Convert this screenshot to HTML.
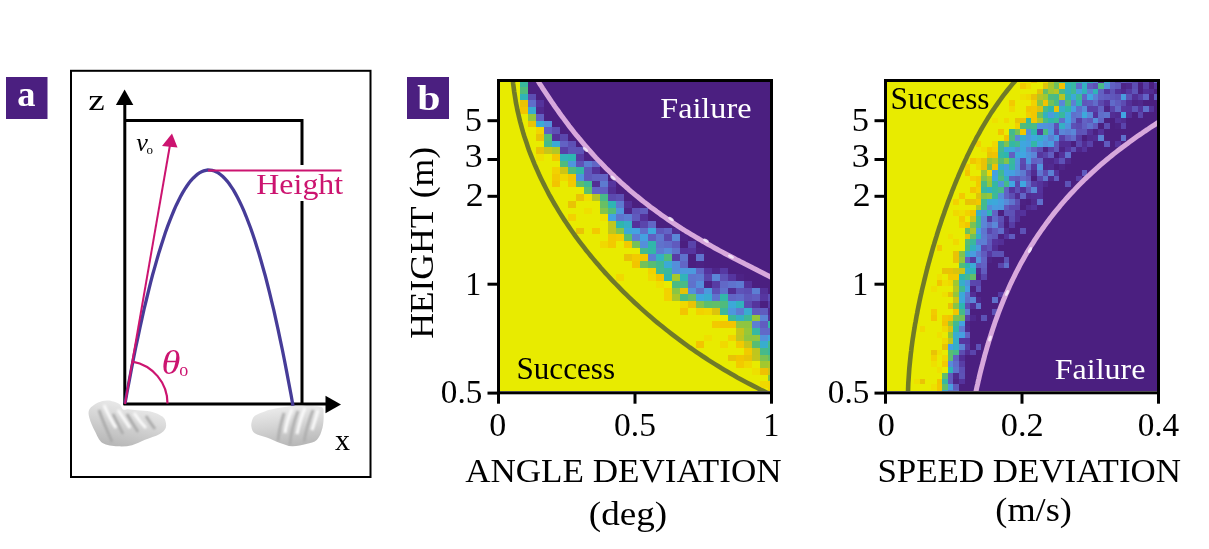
<!DOCTYPE html>
<html><head><meta charset="utf-8"><style>
html,body{margin:0;padding:0;background:#fff;}
svg{display:block;font-family:'Liberation Serif','DejaVu Serif',serif;}
</style></head><body>
<svg width="1209" height="549" viewBox="0 0 1209 549">
<rect x="6" y="77" width="41.5" height="42" fill="#4b1f80"/>
<text x="17.21" y="105.95" font-size="35.4" fill="#fff" textLength="18.22" lengthAdjust="spacingAndGlyphs" font-weight="bold">a</text>
<rect x="71" y="70.8" width="299.5" height="406.2" fill="none" stroke="#000" stroke-width="2"/>
<path d="M125,120.5 H302 V165 M302,201 V404" fill="none" stroke="#000" stroke-width="3"/>
<path d="M124.8,405 V103" stroke="#000" stroke-width="3"/>
<path d="M124.6,89.5 L133.3,105 L115.9,105 Z" fill="#000"/>
<path d="M123.5,404 H327" stroke="#000" stroke-width="3.2"/>
<path d="M341,404.5 L325.5,395.8 L325.5,413.2 Z" fill="#000"/>
<defs>
<filter id="bl" x="-20%" y="-20%" width="140%" height="140%"><feGaussianBlur stdDeviation="1.1"/></filter>
<filter id="bl2" x="-20%" y="-20%" width="140%" height="140%"><feGaussianBlur stdDeviation="0.45"/></filter>
<linearGradient id="hg1" x1="0.7" y1="0" x2="0.3" y2="1"><stop offset="0" stop-color="#f0f0f0"/><stop offset="0.5" stop-color="#d4d4d4"/><stop offset="1" stop-color="#b6b6b6"/></linearGradient>
<linearGradient id="hg2" x1="0.3" y1="0" x2="0.5" y2="1"><stop offset="0" stop-color="#eeeeee"/><stop offset="0.5" stop-color="#d4d4d4"/><stop offset="1" stop-color="#b8b8b8"/></linearGradient>
<clipPath id="lhc"><path d="M89.4,409.2 C90.9,406.6 95.2,404.1 98.1,402.6 C101.0,401.2 104.2,400.7 106.8,400.5 C109.3,400.3 111.2,400.9 113.4,401.6 C115.6,402.3 118.4,403.2 120.0,404.5 C121.6,405.8 121.5,408.7 123.0,409.5 C124.5,410.3 126.3,409.1 128.7,409.2 C131.1,409.3 133.8,409.9 137.4,410.3 C141.0,410.7 146.8,410.7 150.5,411.4 C154.2,412.1 156.9,413.4 159.3,414.7 C161.7,416.0 163.6,416.8 164.7,419.0 C165.8,421.2 166.7,425.2 165.8,427.8 C164.9,430.4 162.8,432.3 159.3,434.3 C155.8,436.3 149.6,438.0 145.0,439.8 C140.4,441.6 136.5,444.1 132.0,445.2 C127.5,446.3 122.7,446.7 117.8,446.3 C112.9,445.9 106.3,445.6 102.5,443.0 C98.7,440.4 97.0,435.2 94.8,431.0 C92.6,426.8 90.3,421.6 89.4,418.0 C88.5,414.4 88.0,411.8 89.4,409.2 Z"/></clipPath>
<clipPath id="rhc"><path d="M251.6,422.3 C252.1,420.3 252.6,417.6 254.8,415.8 C257.0,414.0 260.9,412.7 264.7,411.4 C268.5,410.1 273.2,409.0 277.8,408.1 C282.4,407.2 287.3,406.3 292.0,405.9 C296.7,405.5 301.3,405.7 306.2,405.9 C311.1,406.1 318.6,405.7 321.5,407.0 C324.4,408.3 323.4,410.1 323.6,413.6 C323.8,417.1 323.6,423.4 322.5,427.8 C321.4,432.2 319.7,437.1 317.0,439.8 C314.3,442.5 310.4,443.0 306.2,444.1 C302.0,445.2 296.4,446.5 292.0,446.3 C287.6,446.1 284.2,444.4 280.0,443.0 C275.8,441.6 271.0,439.2 266.8,437.6 C262.6,436.0 257.3,434.8 254.8,433.2 C252.3,431.6 252.1,429.6 251.6,427.8 C251.1,426.0 251.1,424.3 251.6,422.3 Z"/></clipPath>
</defs>
<g>
<path d="M89.4,409.2 C90.9,406.6 95.2,404.1 98.1,402.6 C101.0,401.2 104.2,400.7 106.8,400.5 C109.3,400.3 111.2,400.9 113.4,401.6 C115.6,402.3 118.4,403.2 120.0,404.5 C121.6,405.8 121.5,408.7 123.0,409.5 C124.5,410.3 126.3,409.1 128.7,409.2 C131.1,409.3 133.8,409.9 137.4,410.3 C141.0,410.7 146.8,410.7 150.5,411.4 C154.2,412.1 156.9,413.4 159.3,414.7 C161.7,416.0 163.6,416.8 164.7,419.0 C165.8,421.2 166.7,425.2 165.8,427.8 C164.9,430.4 162.8,432.3 159.3,434.3 C155.8,436.3 149.6,438.0 145.0,439.8 C140.4,441.6 136.5,444.1 132.0,445.2 C127.5,446.3 122.7,446.7 117.8,446.3 C112.9,445.9 106.3,445.6 102.5,443.0 C98.7,440.4 97.0,435.2 94.8,431.0 C92.6,426.8 90.3,421.6 89.4,418.0 C88.5,414.4 88.0,411.8 89.4,409.2 Z" fill="url(#hg1)" filter="url(#bl2)"/>
<g clip-path="url(#lhc)">
<path d="M99,410 C103,422 108,432 112,442 M113,414 C117,422 120,428 123,434 M127,414 C131,421 135,427 138,432 M146,416 C149,421 152,425 155,429" stroke="#a9a9a9" stroke-width="2.6" fill="none" filter="url(#bl)"/>
<path d="M104,405 C108,414 112,422 116,428 M118,410 C122,416 126,422 130,428 M134,413 C138,419 142,424 146,428" stroke="#fbfbfb" stroke-width="3" fill="none" filter="url(#bl)"/>
</g></g>
<g>
<path d="M251.6,422.3 C252.1,420.3 252.6,417.6 254.8,415.8 C257.0,414.0 260.9,412.7 264.7,411.4 C268.5,410.1 273.2,409.0 277.8,408.1 C282.4,407.2 287.3,406.3 292.0,405.9 C296.7,405.5 301.3,405.7 306.2,405.9 C311.1,406.1 318.6,405.7 321.5,407.0 C324.4,408.3 323.4,410.1 323.6,413.6 C323.8,417.1 323.6,423.4 322.5,427.8 C321.4,432.2 319.7,437.1 317.0,439.8 C314.3,442.5 310.4,443.0 306.2,444.1 C302.0,445.2 296.4,446.5 292.0,446.3 C287.6,446.1 284.2,444.4 280.0,443.0 C275.8,441.6 271.0,439.2 266.8,437.6 C262.6,436.0 257.3,434.8 254.8,433.2 C252.3,431.6 252.1,429.6 251.6,427.8 C251.1,426.0 251.1,424.3 251.6,422.3 Z" fill="url(#hg2)" filter="url(#bl2)"/>
<g clip-path="url(#rhc)">
<path d="M284,413 C281,422 279,430 278,441 M298,411 C294,421 291,431 290,445 M313,410 C309,420 306,430 304,442" stroke="#adadad" stroke-width="2.6" fill="none" filter="url(#bl)"/>
<path d="M292,409 C288,418 286,425 285,433 M305,408 C301,417 299,425 297,434 M318,410 C316,418 314,424 312,430" stroke="#fbfbfb" stroke-width="3" fill="none" filter="url(#bl)"/>
</g></g>
<path d="M125.0,403.5 L127.1,391.8 L129.3,380.4 L131.4,369.3 L133.5,358.5 L135.6,348.0 L137.8,337.8 L139.9,327.9 L142.0,318.3 L144.1,309.0 L146.3,300.0 L148.4,291.3 L150.5,282.9 L152.6,274.8 L154.8,267.1 L156.9,259.6 L159.0,252.4 L161.2,245.5 L163.3,238.9 L165.4,232.6 L167.5,226.6 L169.7,220.9 L171.8,215.6 L173.9,210.5 L176.0,205.7 L178.2,201.2 L180.3,197.0 L182.4,193.1 L184.5,189.6 L186.7,186.3 L188.8,183.3 L190.9,180.6 L193.1,178.2 L195.2,176.2 L197.3,174.4 L199.4,172.9 L201.6,171.7 L203.7,170.9 L205.8,170.3 L207.9,170.0 L210.1,170.1 L212.2,170.4 L214.3,171.0 L216.4,171.9 L218.6,173.2 L220.7,174.7 L222.8,176.5 L224.9,178.7 L227.1,181.1 L229.2,183.8 L231.3,186.9 L233.5,190.2 L235.6,193.9 L237.7,197.8 L239.8,202.0 L242.0,206.6 L244.1,211.4 L246.2,216.5 L248.3,222.0 L250.5,227.7 L252.6,233.8 L254.7,240.1 L256.8,246.8 L259.0,253.7 L261.1,261.0 L263.2,268.5 L265.4,276.3 L267.5,284.5 L269.6,292.9 L271.7,301.7 L273.9,310.7 L276.0,320.1 L278.1,329.7 L280.2,339.7 L282.4,350.0 L284.5,360.5 L286.6,371.4 L288.7,382.5 L290.9,394.0 L293.0,405.7" fill="none" stroke="#463c98" stroke-width="3.3"/>
<path d="M125,404 L170.5,142" stroke="#cc1470" stroke-width="2" fill="none"/>
<path d="M172,133.5 L177.5,147.5 L162,146 Z" fill="#cc1470"/>
<path d="M132.4,361.6 A42.5,42.5 0 0 1 167.5,403.5" fill="none" stroke="#cc1470" stroke-width="2.2"/>
<path d="M208,170.5 H341.5" stroke="#cc1470" stroke-width="2"/>
<text x="256.34" y="193.90" font-size="30" fill="#cc1470" textLength="86.81" lengthAdjust="spacingAndGlyphs" >Height</text>
<text x="88.19" y="109.70" font-size="30.2" fill="#000" textLength="16.47" lengthAdjust="spacingAndGlyphs" >z</text>
<text x="136.28" y="150.75" font-size="25" fill="#000" textLength="11.63" lengthAdjust="spacingAndGlyphs" font-style="italic">v</text>
<text x="146.5" y="154.2" font-size="13">o</text>
<text x="161.47" y="374.47" font-size="32.8" fill="#cc1470" textLength="18.95" lengthAdjust="spacingAndGlyphs" font-style="italic">θ</text>
<text x="179.2" y="375.5" font-size="18" fill="#cc1470">o</text>
<text x="335.00" y="450.40" font-size="28.5" fill="#000" textLength="15.00" lengthAdjust="spacingAndGlyphs" >x</text>
<rect x="407" y="77" width="42" height="42" fill="#4b1f80"/>
<text x="417.18" y="110.34" font-size="35.6" fill="#fff" textLength="23.23" lengthAdjust="spacingAndGlyphs" font-weight="bold">b</text>
<clipPath id="c1"><rect x="500" y="82" width="270" height="309"/></clipPath>
<g clip-path="url(#c1)"><rect x="500" y="82" width="270" height="309" fill="#e8eb00"/>
<g shape-rendering="crispEdges"><rect x="520" y="80" width="8" height="7" fill="#39b89d"/>
<rect x="528" y="80" width="256" height="7" fill="#4b1f80"/>
<rect x="520" y="87" width="8" height="7" fill="#4fbc7c"/>
<rect x="528" y="87" width="256" height="7" fill="#4b1f80"/>
<rect x="520" y="94" width="8" height="6" fill="#30b3b8"/>
<rect x="528" y="94" width="8" height="6" fill="#5c4db3"/>
<rect x="536" y="94" width="248" height="6" fill="#4b1f80"/>
<rect x="520" y="100" width="8" height="7" fill="#e9c305"/>
<rect x="528" y="100" width="8" height="7" fill="#5f6eca"/>
<rect x="536" y="100" width="8" height="7" fill="#54339c"/>
<rect x="544" y="100" width="240" height="7" fill="#4b1f80"/>
<rect x="520" y="107" width="8" height="7" fill="#f2c500"/>
<rect x="528" y="107" width="8" height="7" fill="#39accf"/>
<rect x="536" y="107" width="8" height="7" fill="#50298e"/>
<rect x="544" y="107" width="240" height="7" fill="#4b1f80"/>
<rect x="528" y="114" width="8" height="7" fill="#92c63d"/>
<rect x="536" y="114" width="8" height="7" fill="#615fc1"/>
<rect x="544" y="114" width="240" height="7" fill="#4b1f80"/>
<rect x="528" y="121" width="8" height="6" fill="#e9c305"/>
<rect x="536" y="121" width="8" height="6" fill="#3babd4"/>
<rect x="544" y="121" width="8" height="6" fill="#5390db"/>
<rect x="552" y="121" width="232" height="6" fill="#4b1f80"/>
<rect x="536" y="127" width="8" height="7" fill="#f1d500"/>
<rect x="544" y="127" width="8" height="7" fill="#615fc2"/>
<rect x="552" y="127" width="8" height="7" fill="#5d4fb4"/>
<rect x="560" y="127" width="224" height="7" fill="#4b1f80"/>
<rect x="536" y="134" width="8" height="7" fill="#e9c305"/>
<rect x="544" y="134" width="8" height="7" fill="#52bc78"/>
<rect x="552" y="134" width="8" height="7" fill="#54319a"/>
<rect x="560" y="134" width="8" height="7" fill="#5a47ad"/>
<rect x="568" y="134" width="216" height="7" fill="#4b1f80"/>
<rect x="544" y="141" width="8" height="6" fill="#45ba8c"/>
<rect x="552" y="141" width="8" height="6" fill="#3baad5"/>
<rect x="560" y="141" width="8" height="6" fill="#6262c4"/>
<rect x="568" y="141" width="8" height="6" fill="#5d50b5"/>
<rect x="576" y="141" width="208" height="6" fill="#4b1f80"/>
<rect x="536" y="147" width="8" height="7" fill="#e9c305"/>
<rect x="544" y="147" width="8" height="7" fill="#c8c519"/>
<rect x="552" y="147" width="8" height="7" fill="#b0c727"/>
<rect x="560" y="147" width="8" height="7" fill="#5840a8"/>
<rect x="568" y="147" width="8" height="7" fill="#5e54b8"/>
<rect x="576" y="147" width="8" height="7" fill="#5e52b7"/>
<rect x="584" y="147" width="200" height="7" fill="#4b1f80"/>
<rect x="536" y="154" width="8" height="7" fill="#eee000"/>
<rect x="552" y="154" width="8" height="7" fill="#f2c900"/>
<rect x="560" y="154" width="8" height="7" fill="#31b3ba"/>
<rect x="568" y="154" width="8" height="7" fill="#2eb6b1"/>
<rect x="576" y="154" width="8" height="7" fill="#573aa3"/>
<rect x="584" y="154" width="8" height="7" fill="#4d2285"/>
<rect x="592" y="154" width="192" height="7" fill="#4b1f80"/>
<rect x="560" y="161" width="8" height="6" fill="#4ebb7e"/>
<rect x="568" y="161" width="8" height="6" fill="#4e96dd"/>
<rect x="576" y="161" width="8" height="6" fill="#5e52b7"/>
<rect x="584" y="161" width="8" height="6" fill="#5c7cd2"/>
<rect x="592" y="161" width="8" height="6" fill="#6165c5"/>
<rect x="600" y="161" width="184" height="6" fill="#4b1f80"/>
<rect x="552" y="167" width="8" height="7" fill="#f2d200"/>
<rect x="560" y="167" width="8" height="7" fill="#cec515"/>
<rect x="568" y="167" width="8" height="7" fill="#50bc7b"/>
<rect x="576" y="167" width="8" height="7" fill="#33b7a6"/>
<rect x="584" y="167" width="8" height="7" fill="#5f58bb"/>
<rect x="592" y="167" width="8" height="7" fill="#54339c"/>
<rect x="600" y="167" width="184" height="7" fill="#4b1f80"/>
<rect x="552" y="174" width="8" height="7" fill="#f2ca00"/>
<rect x="560" y="174" width="8" height="7" fill="#f0d900"/>
<rect x="568" y="174" width="8" height="7" fill="#f2c700"/>
<rect x="576" y="174" width="8" height="7" fill="#4e95dc"/>
<rect x="584" y="174" width="8" height="7" fill="#5f58bc"/>
<rect x="592" y="174" width="8" height="7" fill="#6160c2"/>
<rect x="600" y="174" width="8" height="7" fill="#6263c4"/>
<rect x="608" y="174" width="176" height="7" fill="#4b1f80"/>
<rect x="552" y="181" width="8" height="6" fill="#f2c500"/>
<rect x="568" y="181" width="8" height="6" fill="#f2ca00"/>
<rect x="576" y="181" width="8" height="6" fill="#5bbd6f"/>
<rect x="584" y="181" width="8" height="6" fill="#3fb995"/>
<rect x="592" y="181" width="8" height="6" fill="#522e95"/>
<rect x="600" y="181" width="8" height="6" fill="#5d7ad0"/>
<rect x="608" y="181" width="8" height="6" fill="#55359f"/>
<rect x="616" y="181" width="168" height="6" fill="#4b1f80"/>
<rect x="584" y="187" width="8" height="7" fill="#5dbe6e"/>
<rect x="592" y="187" width="8" height="7" fill="#6264c5"/>
<rect x="600" y="187" width="8" height="7" fill="#615ec1"/>
<rect x="608" y="187" width="8" height="7" fill="#522e95"/>
<rect x="616" y="187" width="168" height="7" fill="#4b1f80"/>
<rect x="576" y="194" width="8" height="7" fill="#e9c305"/>
<rect x="584" y="194" width="8" height="7" fill="#eee000"/>
<rect x="592" y="194" width="8" height="7" fill="#b5c624"/>
<rect x="600" y="194" width="8" height="7" fill="#48ba87"/>
<rect x="608" y="194" width="8" height="7" fill="#5b49af"/>
<rect x="616" y="194" width="8" height="7" fill="#5d50b5"/>
<rect x="624" y="194" width="160" height="7" fill="#4b1f80"/>
<rect x="568" y="201" width="8" height="7" fill="#e9c305"/>
<rect x="600" y="201" width="8" height="7" fill="#68bf64"/>
<rect x="608" y="201" width="8" height="7" fill="#2eb5b4"/>
<rect x="616" y="201" width="8" height="7" fill="#5d79d0"/>
<rect x="624" y="201" width="8" height="7" fill="#532f97"/>
<rect x="632" y="201" width="152" height="7" fill="#4b1f80"/>
<rect x="584" y="208" width="8" height="6" fill="#eee000"/>
<rect x="600" y="208" width="8" height="6" fill="#83c44b"/>
<rect x="608" y="208" width="8" height="6" fill="#52bc78"/>
<rect x="616" y="208" width="8" height="6" fill="#4f95dc"/>
<rect x="624" y="208" width="8" height="6" fill="#4e2589"/>
<rect x="632" y="208" width="8" height="6" fill="#5e52b7"/>
<rect x="640" y="208" width="8" height="6" fill="#605bbe"/>
<rect x="648" y="208" width="136" height="6" fill="#4b1f80"/>
<rect x="568" y="214" width="8" height="7" fill="#f2d200"/>
<rect x="600" y="214" width="8" height="7" fill="#eee000"/>
<rect x="608" y="214" width="8" height="7" fill="#43a2e1"/>
<rect x="616" y="214" width="8" height="7" fill="#5e75ce"/>
<rect x="624" y="214" width="8" height="7" fill="#5c7ed3"/>
<rect x="632" y="214" width="8" height="7" fill="#605abd"/>
<rect x="640" y="214" width="8" height="7" fill="#54319a"/>
<rect x="648" y="214" width="136" height="7" fill="#4b1f80"/>
<rect x="608" y="221" width="8" height="7" fill="#c1c61d"/>
<rect x="616" y="221" width="8" height="7" fill="#2fb6ad"/>
<rect x="624" y="221" width="8" height="7" fill="#35afc6"/>
<rect x="632" y="221" width="8" height="7" fill="#54329c"/>
<rect x="640" y="221" width="8" height="7" fill="#5a45ac"/>
<rect x="648" y="221" width="8" height="7" fill="#6166c6"/>
<rect x="656" y="221" width="128" height="7" fill="#4b1f80"/>
<rect x="576" y="228" width="8" height="6" fill="#e9c305"/>
<rect x="592" y="228" width="8" height="6" fill="#f2ca00"/>
<rect x="608" y="228" width="8" height="6" fill="#bfc61e"/>
<rect x="616" y="228" width="8" height="6" fill="#84c44a"/>
<rect x="624" y="228" width="8" height="6" fill="#3ca9d8"/>
<rect x="632" y="228" width="8" height="6" fill="#44a2e1"/>
<rect x="640" y="228" width="8" height="6" fill="#5f70cb"/>
<rect x="648" y="228" width="8" height="6" fill="#3ea8dc"/>
<rect x="656" y="228" width="8" height="6" fill="#5f58bc"/>
<rect x="664" y="228" width="8" height="6" fill="#6263c5"/>
<rect x="672" y="228" width="8" height="6" fill="#512d93"/>
<rect x="680" y="228" width="104" height="6" fill="#4b1f80"/>
<rect x="608" y="234" width="8" height="7" fill="#f2ca00"/>
<rect x="616" y="234" width="8" height="7" fill="#f2ce00"/>
<rect x="624" y="234" width="8" height="7" fill="#59bd71"/>
<rect x="632" y="234" width="8" height="7" fill="#5c7ed3"/>
<rect x="640" y="234" width="8" height="7" fill="#44a1e0"/>
<rect x="648" y="234" width="8" height="7" fill="#615ec1"/>
<rect x="656" y="234" width="8" height="7" fill="#5e77cf"/>
<rect x="664" y="234" width="8" height="7" fill="#5b48af"/>
<rect x="672" y="234" width="8" height="7" fill="#5a86d7"/>
<rect x="680" y="234" width="8" height="7" fill="#4d2386"/>
<rect x="688" y="234" width="96" height="7" fill="#4b1f80"/>
<rect x="600" y="241" width="8" height="7" fill="#f0d900"/>
<rect x="608" y="241" width="8" height="7" fill="#f2ca00"/>
<rect x="624" y="241" width="8" height="7" fill="#f2ca00"/>
<rect x="632" y="241" width="8" height="7" fill="#74c158"/>
<rect x="640" y="241" width="8" height="7" fill="#548fda"/>
<rect x="648" y="241" width="8" height="7" fill="#30b6ab"/>
<rect x="656" y="241" width="8" height="7" fill="#5f72cc"/>
<rect x="664" y="241" width="8" height="7" fill="#606bc9"/>
<rect x="672" y="241" width="8" height="7" fill="#605abe"/>
<rect x="680" y="241" width="8" height="7" fill="#4b1f80"/>
<rect x="688" y="241" width="8" height="7" fill="#5943ab"/>
<rect x="696" y="241" width="88" height="7" fill="#4b1f80"/>
<rect x="640" y="248" width="8" height="6" fill="#44ba8c"/>
<rect x="648" y="248" width="8" height="6" fill="#33b7a6"/>
<rect x="656" y="248" width="8" height="6" fill="#5d7bd1"/>
<rect x="664" y="248" width="8" height="6" fill="#568cd9"/>
<rect x="672" y="248" width="8" height="6" fill="#5f72cc"/>
<rect x="680" y="248" width="8" height="6" fill="#55349e"/>
<rect x="688" y="248" width="8" height="6" fill="#5636a0"/>
<rect x="696" y="248" width="8" height="6" fill="#4d2385"/>
<rect x="704" y="248" width="80" height="6" fill="#4b1f80"/>
<rect x="624" y="254" width="8" height="7" fill="#e9c305"/>
<rect x="632" y="254" width="8" height="7" fill="#f2ca00"/>
<rect x="640" y="254" width="8" height="7" fill="#f2c600"/>
<rect x="648" y="254" width="8" height="7" fill="#5c7fd3"/>
<rect x="656" y="254" width="8" height="7" fill="#34b0c3"/>
<rect x="664" y="254" width="8" height="7" fill="#50bc7b"/>
<rect x="672" y="254" width="8" height="7" fill="#573ca4"/>
<rect x="680" y="254" width="8" height="7" fill="#5f72cd"/>
<rect x="688" y="254" width="8" height="7" fill="#4b1f80"/>
<rect x="696" y="254" width="8" height="7" fill="#5f73cd"/>
<rect x="704" y="254" width="80" height="7" fill="#4b1f80"/>
<rect x="632" y="261" width="8" height="7" fill="#f2c500"/>
<rect x="640" y="261" width="8" height="7" fill="#74c159"/>
<rect x="648" y="261" width="8" height="7" fill="#57bd74"/>
<rect x="656" y="261" width="8" height="7" fill="#42b990"/>
<rect x="664" y="261" width="8" height="7" fill="#3baad5"/>
<rect x="672" y="261" width="8" height="7" fill="#548fda"/>
<rect x="680" y="261" width="8" height="7" fill="#6166c6"/>
<rect x="688" y="261" width="8" height="7" fill="#4b1f80"/>
<rect x="696" y="261" width="8" height="7" fill="#4c2284"/>
<rect x="704" y="261" width="80" height="7" fill="#4b1f80"/>
<rect x="648" y="268" width="8" height="6" fill="#f2d300"/>
<rect x="656" y="268" width="8" height="6" fill="#43ba8f"/>
<rect x="664" y="268" width="8" height="6" fill="#39b89e"/>
<rect x="672" y="268" width="8" height="6" fill="#558eda"/>
<rect x="680" y="268" width="16" height="6" fill="#4c99de"/>
<rect x="696" y="268" width="8" height="6" fill="#6165c5"/>
<rect x="704" y="268" width="8" height="6" fill="#55349e"/>
<rect x="712" y="268" width="8" height="6" fill="#4e268a"/>
<rect x="720" y="268" width="8" height="6" fill="#5638a2"/>
<rect x="728" y="268" width="56" height="6" fill="#4b1f80"/>
<rect x="616" y="274" width="8" height="7" fill="#f0d900"/>
<rect x="648" y="274" width="8" height="7" fill="#f0d900"/>
<rect x="656" y="274" width="8" height="7" fill="#f2c400"/>
<rect x="664" y="274" width="8" height="7" fill="#30b6ac"/>
<rect x="672" y="274" width="8" height="7" fill="#a5c82d"/>
<rect x="680" y="274" width="8" height="7" fill="#31b3b9"/>
<rect x="688" y="274" width="8" height="7" fill="#5e75ce"/>
<rect x="696" y="274" width="8" height="7" fill="#5d79d0"/>
<rect x="704" y="274" width="8" height="7" fill="#5944ab"/>
<rect x="712" y="274" width="8" height="7" fill="#5b85d7"/>
<rect x="720" y="274" width="8" height="7" fill="#5d51b6"/>
<rect x="728" y="274" width="8" height="7" fill="#55359f"/>
<rect x="736" y="274" width="8" height="7" fill="#4d2386"/>
<rect x="744" y="274" width="40" height="7" fill="#4b1f80"/>
<rect x="656" y="281" width="8" height="7" fill="#eee000"/>
<rect x="672" y="281" width="8" height="7" fill="#4abb84"/>
<rect x="680" y="281" width="8" height="7" fill="#49bb86"/>
<rect x="688" y="281" width="8" height="7" fill="#5f72cc"/>
<rect x="696" y="281" width="8" height="7" fill="#548fda"/>
<rect x="704" y="281" width="8" height="7" fill="#4d2487"/>
<rect x="712" y="281" width="8" height="7" fill="#573ca4"/>
<rect x="720" y="281" width="8" height="7" fill="#6168c7"/>
<rect x="728" y="281" width="8" height="7" fill="#5f72cd"/>
<rect x="736" y="281" width="8" height="7" fill="#5d7ad1"/>
<rect x="744" y="281" width="8" height="7" fill="#54319a"/>
<rect x="752" y="281" width="32" height="7" fill="#4b1f80"/>
<rect x="664" y="288" width="8" height="6" fill="#f2d200"/>
<rect x="672" y="288" width="8" height="6" fill="#8ac545"/>
<rect x="680" y="288" width="8" height="6" fill="#e3c309"/>
<rect x="688" y="288" width="8" height="6" fill="#5390db"/>
<rect x="696" y="288" width="8" height="6" fill="#606dca"/>
<rect x="704" y="288" width="8" height="6" fill="#4b99de"/>
<rect x="712" y="288" width="8" height="6" fill="#5d52b7"/>
<rect x="720" y="288" width="8" height="6" fill="#5f71cc"/>
<rect x="728" y="288" width="8" height="6" fill="#522e95"/>
<rect x="736" y="288" width="8" height="6" fill="#5e53b8"/>
<rect x="744" y="288" width="8" height="6" fill="#5c4eb4"/>
<rect x="752" y="288" width="8" height="6" fill="#5c7ed3"/>
<rect x="760" y="288" width="8" height="6" fill="#533098"/>
<rect x="768" y="288" width="16" height="6" fill="#4b1f80"/>
<rect x="664" y="294" width="8" height="7" fill="#f2d200"/>
<rect x="672" y="294" width="8" height="7" fill="#aac72a"/>
<rect x="680" y="294" width="8" height="7" fill="#4abb84"/>
<rect x="688" y="294" width="8" height="7" fill="#68bf64"/>
<rect x="696" y="294" width="8" height="7" fill="#3ea7de"/>
<rect x="704" y="294" width="8" height="7" fill="#39acd0"/>
<rect x="712" y="294" width="8" height="7" fill="#5e73cd"/>
<rect x="720" y="294" width="8" height="7" fill="#32b7a9"/>
<rect x="728" y="294" width="8" height="7" fill="#6165c5"/>
<rect x="736" y="294" width="8" height="7" fill="#606bc9"/>
<rect x="744" y="294" width="8" height="7" fill="#5f57bb"/>
<rect x="752" y="294" width="8" height="7" fill="#615dc0"/>
<rect x="760" y="294" width="8" height="7" fill="#5636a0"/>
<rect x="768" y="294" width="8" height="7" fill="#5c4eb4"/>
<rect x="776" y="294" width="8" height="7" fill="#54329a"/>
<rect x="680" y="301" width="8" height="7" fill="#f0d900"/>
<rect x="688" y="301" width="8" height="7" fill="#eac305"/>
<rect x="696" y="301" width="8" height="7" fill="#80c34e"/>
<rect x="704" y="301" width="8" height="7" fill="#5cbe6e"/>
<rect x="712" y="301" width="8" height="7" fill="#62be69"/>
<rect x="720" y="301" width="8" height="7" fill="#4fbb7d"/>
<rect x="728" y="301" width="8" height="7" fill="#3ca9d8"/>
<rect x="736" y="301" width="8" height="7" fill="#32b2be"/>
<rect x="744" y="301" width="8" height="7" fill="#5b4bb1"/>
<rect x="752" y="301" width="8" height="7" fill="#55349d"/>
<rect x="760" y="301" width="8" height="7" fill="#4b1f81"/>
<rect x="768" y="301" width="8" height="7" fill="#5639a2"/>
<rect x="776" y="301" width="8" height="7" fill="#4b1f80"/>
<rect x="680" y="308" width="8" height="7" fill="#f2c500"/>
<rect x="696" y="308" width="8" height="7" fill="#f2d200"/>
<rect x="704" y="308" width="8" height="7" fill="#f0d800"/>
<rect x="712" y="308" width="8" height="7" fill="#dcc40d"/>
<rect x="720" y="308" width="8" height="7" fill="#3bb89b"/>
<rect x="728" y="308" width="8" height="7" fill="#4d97dd"/>
<rect x="736" y="308" width="8" height="7" fill="#5d7cd2"/>
<rect x="744" y="308" width="8" height="7" fill="#39accf"/>
<rect x="752" y="308" width="8" height="7" fill="#605bbe"/>
<rect x="760" y="308" width="8" height="7" fill="#605bbf"/>
<rect x="768" y="308" width="8" height="7" fill="#512b91"/>
<rect x="776" y="308" width="8" height="7" fill="#50298e"/>
<rect x="728" y="315" width="8" height="6" fill="#3cb89a"/>
<rect x="736" y="315" width="8" height="6" fill="#34b0c3"/>
<rect x="744" y="315" width="8" height="6" fill="#3fb995"/>
<rect x="752" y="315" width="8" height="6" fill="#94c63b"/>
<rect x="760" y="315" width="8" height="6" fill="#5b84d6"/>
<rect x="768" y="315" width="8" height="6" fill="#54339c"/>
<rect x="776" y="315" width="8" height="6" fill="#4b1f80"/>
<rect x="712" y="321" width="8" height="7" fill="#f2ca00"/>
<rect x="720" y="321" width="16" height="7" fill="#f2c500"/>
<rect x="736" y="321" width="8" height="7" fill="#8fc540"/>
<rect x="744" y="321" width="8" height="7" fill="#8dc541"/>
<rect x="752" y="321" width="8" height="7" fill="#5c7fd3"/>
<rect x="760" y="321" width="8" height="7" fill="#615dc0"/>
<rect x="768" y="321" width="8" height="7" fill="#33b7a6"/>
<rect x="776" y="321" width="8" height="7" fill="#5a86d7"/>
<rect x="736" y="328" width="8" height="7" fill="#c7c519"/>
<rect x="744" y="328" width="8" height="7" fill="#97c739"/>
<rect x="752" y="328" width="8" height="7" fill="#37b8a2"/>
<rect x="760" y="328" width="8" height="7" fill="#6169c8"/>
<rect x="768" y="328" width="8" height="7" fill="#606ac8"/>
<rect x="776" y="328" width="8" height="7" fill="#6261c3"/>
<rect x="704" y="335" width="8" height="6" fill="#eee000"/>
<rect x="728" y="335" width="8" height="6" fill="#f2d200"/>
<rect x="736" y="335" width="8" height="6" fill="#bfc61e"/>
<rect x="744" y="335" width="8" height="6" fill="#8fc540"/>
<rect x="752" y="335" width="8" height="6" fill="#90c63f"/>
<rect x="760" y="335" width="8" height="6" fill="#5292db"/>
<rect x="768" y="335" width="8" height="6" fill="#3da8da"/>
<rect x="776" y="335" width="8" height="6" fill="#30b4b8"/>
<rect x="696" y="341" width="8" height="7" fill="#f2c500"/>
<rect x="720" y="341" width="8" height="7" fill="#f0d900"/>
<rect x="736" y="341" width="8" height="7" fill="#f2ca00"/>
<rect x="744" y="341" width="8" height="7" fill="#c5c51a"/>
<rect x="752" y="341" width="8" height="7" fill="#59bd72"/>
<rect x="760" y="341" width="8" height="7" fill="#38adce"/>
<rect x="768" y="341" width="8" height="7" fill="#46ba8b"/>
<rect x="776" y="341" width="8" height="7" fill="#3baad5"/>
<rect x="744" y="348" width="8" height="7" fill="#f2ca00"/>
<rect x="752" y="348" width="8" height="7" fill="#bfc61e"/>
<rect x="760" y="348" width="8" height="7" fill="#46ba8a"/>
<rect x="768" y="348" width="8" height="7" fill="#3bb89a"/>
<rect x="776" y="348" width="8" height="7" fill="#31b2bc"/>
<rect x="728" y="355" width="8" height="6" fill="#e9c305"/>
<rect x="736" y="355" width="8" height="6" fill="#f2c500"/>
<rect x="744" y="355" width="8" height="6" fill="#e9c305"/>
<rect x="752" y="355" width="8" height="6" fill="#c2c61c"/>
<rect x="760" y="355" width="8" height="6" fill="#7bc252"/>
<rect x="768" y="355" width="8" height="6" fill="#62bf69"/>
<rect x="776" y="355" width="8" height="6" fill="#4ebb7f"/>
<rect x="736" y="361" width="8" height="7" fill="#f2ca00"/>
<rect x="744" y="361" width="8" height="7" fill="#f0d900"/>
<rect x="760" y="361" width="8" height="7" fill="#a2c82f"/>
<rect x="768" y="361" width="8" height="7" fill="#acc729"/>
<rect x="776" y="361" width="8" height="7" fill="#48ba88"/>
<rect x="752" y="368" width="8" height="7" fill="#eee000"/>
<rect x="760" y="368" width="8" height="7" fill="#efc202"/>
<rect x="768" y="368" width="8" height="7" fill="#cdc516"/>
<rect x="776" y="368" width="8" height="7" fill="#33b1bf"/>
<rect x="768" y="375" width="8" height="6" fill="#85c449"/>
<rect x="776" y="375" width="8" height="6" fill="#69c063"/>
<rect x="760" y="381" width="8" height="7" fill="#f0d900"/>
<rect x="768" y="381" width="8" height="7" fill="#f1d500"/>
<rect x="776" y="381" width="8" height="7" fill="#67bf64"/>
<rect x="768" y="388" width="8" height="7" fill="#f2d200"/>
<rect x="776" y="388" width="8" height="7" fill="#b8c622"/>
<rect x="776" y="395" width="8" height="7" fill="#b8c622"/></g>
<path d="M511.8,68.4 L512.1,72.4 L512.4,76.3 L512.8,80.1 L513.2,84.0 L513.7,87.8 L514.2,91.6 L514.8,95.4 L515.4,99.2 L516.0,103.0 L516.8,106.7 L517.5,110.4 L518.4,114.2 L519.2,117.8 L520.1,121.5 L521.1,125.2 L522.1,128.8 L523.1,132.4 L524.2,136.0 L525.4,139.6 L526.6,143.1 L527.8,146.7 L529.0,150.2 L530.3,153.7 L531.7,157.2 L533.1,160.6 L534.5,164.1 L536.0,167.5 L537.5,170.9 L539.0,174.3 L540.6,177.7 L542.2,181.0 L543.9,184.4 L545.6,187.7 L547.3,191.0 L549.0,194.3 L550.8,197.5 L552.7,200.8 L554.5,204.0 L556.4,207.2 L558.3,210.4 L560.3,213.6 L562.3,216.7 L564.3,219.9 L566.4,223.0 L568.5,226.1 L570.6,229.2 L572.7,232.2 L574.9,235.3 L577.1,238.3 L579.3,241.3 L581.6,244.3 L583.8,247.2 L586.1,250.2 L588.5,253.1 L590.8,256.0 L593.2,258.9 L595.6,261.8 L598.1,264.6 L600.5,267.5 L603.0,270.3 L605.5,273.1 L608.0,275.8 L610.6,278.6 L613.2,281.3 L615.8,284.0 L618.4,286.7 L621.0,289.4 L623.7,292.1 L626.4,294.7 L629.1,297.3 L631.8,299.9 L634.5,302.5 L637.3,305.0 L640.1,307.6 L642.9,310.1 L645.7,312.6 L648.5,315.1 L651.4,317.5 L654.2,319.9 L657.1,322.4 L660.0,324.7 L662.9,327.1 L665.9,329.5 L668.8,331.8 L671.8,334.1 L674.8,336.4 L677.8,338.6 L680.8,340.9 L683.8,343.1 L686.9,345.3 L689.9,347.5 L693.0,349.6 L696.1,351.8 L699.2,353.9 L702.3,356.0 L705.4,358.0 L708.5,360.1 L711.7,362.1 L714.9,364.1 L718.0,366.0 L721.2,368.0 L724.4,369.9 L727.6,371.8 L730.9,373.7 L734.1,375.5 L737.3,377.4 L740.6,379.2 L743.9,381.0 L747.1,382.7 L750.4,384.4 L753.7,386.1 L757.0,387.8 L760.3,389.5 L763.7,391.1 L767.0,392.7 L770.4,394.3 L773.7,395.8 L777.1,397.4 L780.5,398.9" fill="none" stroke="#707a28" stroke-width="4.6"/>
<path d="M534.1,74.7 L535.5,77.0 L536.9,79.2 L538.4,81.5 L539.8,83.8 L541.3,86.0 L542.7,88.3 L544.2,90.6 L545.7,92.8 L547.2,95.1 L548.7,97.4 L550.2,99.6 L551.7,101.9 L553.3,104.1 L554.8,106.4 L556.4,108.6 L558.0,110.8 L559.5,113.0 L561.1,115.2 L562.8,117.4 L564.4,119.6 L566.0,121.8 L567.7,124.0 L569.3,126.2 L571.0,128.4 L572.7,130.5 L574.4,132.7 L576.1,134.8 L577.9,136.9 L579.6,139.0 L581.4,141.1 L583.1,143.2 L584.9,145.3 L586.7,147.4 L588.5,149.5 L590.3,151.5 L592.1,153.5 L594.0,155.6 L595.8,157.6 L597.7,159.6 L599.6,161.6 L601.5,163.5 L603.4,165.5 L605.3,167.5 L607.2,169.4 L609.2,171.3 L611.1,173.2 L613.1,175.1 L615.0,177.0 L617.0,178.9 L619.0,180.7 L621.0,182.6 L623.1,184.4 L625.1,186.2 L627.2,188.0 L629.2,189.8 L631.3,191.6 L633.4,193.3 L635.5,195.1 L637.6,196.8 L639.7,198.5 L641.8,200.2 L643.9,201.9 L646.1,203.6 L648.3,205.2 L650.4,206.9 L652.6,208.5 L654.8,210.1 L657.0,211.8 L659.2,213.3 L661.4,214.9 L663.7,216.5 L665.9,218.0 L668.1,219.6 L670.4,221.1 L672.7,222.6 L674.9,224.1 L677.2,225.6 L679.5,227.1 L681.8,228.6 L684.1,230.0 L686.4,231.5 L688.8,232.9 L691.1,234.3 L693.4,235.7 L695.8,237.1 L698.1,238.5 L700.5,239.9 L702.8,241.3 L705.2,242.6 L707.6,244.0 L710.0,245.3 L712.4,246.6 L714.7,248.0 L717.1,249.3 L719.5,250.6 L722.0,251.9 L724.4,253.2 L726.8,254.5 L729.2,255.7 L731.6,257.0 L734.0,258.3 L736.5,259.6 L738.9,260.8 L741.3,262.1 L743.8,263.3 L746.2,264.6 L748.6,265.8 L751.1,267.0 L753.5,268.3 L756.0,269.5 L758.4,270.8 L760.8,272.0 L763.3,273.2 L765.7,274.5 L768.2,275.7 L770.6,276.9 L773.0,278.2 L775.5,279.4 L777.9,280.7" fill="none" stroke="#d8a8dc" stroke-width="5"/>
<ellipse cx="585.5" cy="149.5" rx="3.2" ry="1.5" transform="rotate(45 585.5 149.5)" fill="#f8eefa" opacity="0.85"/>
<ellipse cx="613" cy="178" rx="3.2" ry="1.5" transform="rotate(40 613 178)" fill="#f8eefa" opacity="0.85"/>
<ellipse cx="671" cy="219" rx="3.2" ry="1.5" transform="rotate(32 671 219)" fill="#f8eefa" opacity="0.85"/>
<ellipse cx="706" cy="240.6" rx="3.2" ry="1.5" transform="rotate(30 706 240.6)" fill="#f8eefa" opacity="0.85"/>
<ellipse cx="731" cy="256.6" rx="3.2" ry="1.5" transform="rotate(28 731 256.6)" fill="#f8eefa" opacity="0.85"/>
</g>
<rect x="498.5" y="80.5" width="273" height="312.3" fill="none" stroke="#000" stroke-width="3"/>
<path d="M487.5,120.7 H499" stroke="#000" stroke-width="3"/>
<path d="M487.5,159.5 H499" stroke="#000" stroke-width="3"/>
<path d="M487.5,196.3 H499" stroke="#000" stroke-width="3"/>
<path d="M487.5,284.2 H499" stroke="#000" stroke-width="3"/>
<path d="M487.5,393.1 H499" stroke="#000" stroke-width="3"/>
<path d="M498.5,392 V403.7" stroke="#000" stroke-width="3"/>
<path d="M635,392 V403.7" stroke="#000" stroke-width="3"/>
<path d="M771.5,392 V403.7" stroke="#000" stroke-width="3"/>
<text x="464.73" y="130.96" font-size="34" fill="#000" textLength="17.25" lengthAdjust="spacingAndGlyphs" >5</text>
<text x="464.81" y="166.86" font-size="34" fill="#000" textLength="17.93" lengthAdjust="spacingAndGlyphs" >3</text>
<text x="465.77" y="205.60" font-size="34" fill="#000" textLength="17.88" lengthAdjust="spacingAndGlyphs" >2</text>
<text x="465.32" y="295.00" font-size="34" fill="#000" textLength="16.00" lengthAdjust="spacingAndGlyphs" >1</text>
<text x="440.87" y="402.62" font-size="34" fill="#000" textLength="41.45" lengthAdjust="spacingAndGlyphs" >0.5</text>
<text x="489.34" y="435.82" font-size="34" fill="#000" textLength="17.02" lengthAdjust="spacingAndGlyphs" >0</text>
<text x="614.06" y="435.92" font-size="34" fill="#000" textLength="41.88" lengthAdjust="spacingAndGlyphs" >0.5</text>
<text x="763.29" y="436.30" font-size="34" fill="#000" textLength="16.14" lengthAdjust="spacingAndGlyphs" >1</text>
<text x="465.15" y="482.22" font-size="34" fill="#000" textLength="316.46" lengthAdjust="spacingAndGlyphs" >ANGLE DEVIATION</text>
<text x="588.81" y="524.56" font-size="34" fill="#000" textLength="78.37" lengthAdjust="spacingAndGlyphs" >(deg)</text>
<text x="660.23" y="117.90" font-size="30" fill="#fff" textLength="91.22" lengthAdjust="spacingAndGlyphs" >Failure</text>
<text x="516.52" y="378.59" font-size="30.5" fill="#000" textLength="98.50" lengthAdjust="spacingAndGlyphs" >Success</text>
<clipPath id="c2"><rect x="887" y="82" width="270" height="309"/></clipPath>
<g clip-path="url(#c2)"><rect x="887" y="82" width="270" height="309" fill="#e8eb00"/>
<g shape-rendering="crispEdges"><rect x="1031" y="77" width="6" height="6" fill="#e9c305"/>
<rect x="1043" y="77" width="5" height="6" fill="#eee000"/>
<rect x="1048" y="77" width="6" height="6" fill="#b9c621"/>
<rect x="1054" y="77" width="5" height="6" fill="#76c257"/>
<rect x="1059" y="77" width="6" height="6" fill="#46ba8a"/>
<rect x="1065" y="77" width="6" height="6" fill="#3eb996"/>
<rect x="1071" y="77" width="5" height="6" fill="#3ab89d"/>
<rect x="1076" y="77" width="6" height="6" fill="#31b7a9"/>
<rect x="1082" y="77" width="5" height="6" fill="#45a0e0"/>
<rect x="1087" y="77" width="6" height="6" fill="#2db6b1"/>
<rect x="1093" y="77" width="5" height="6" fill="#548fda"/>
<rect x="1098" y="77" width="6" height="6" fill="#4f278b"/>
<rect x="1104" y="77" width="6" height="6" fill="#36aec8"/>
<rect x="1110" y="77" width="5" height="6" fill="#6263c4"/>
<rect x="1115" y="77" width="6" height="6" fill="#5b48af"/>
<rect x="1121" y="77" width="5" height="6" fill="#615fc1"/>
<rect x="1126" y="77" width="6" height="6" fill="#5f56ba"/>
<rect x="1132" y="77" width="6" height="6" fill="#5b4ab0"/>
<rect x="1138" y="77" width="5" height="6" fill="#512c92"/>
<rect x="1143" y="77" width="6" height="6" fill="#5a44ab"/>
<rect x="1149" y="77" width="5" height="6" fill="#4b1f80"/>
<rect x="1154" y="77" width="6" height="6" fill="#6167c7"/>
<rect x="1160" y="77" width="5" height="6" fill="#4b1f80"/>
<rect x="1020" y="83" width="6" height="6" fill="#f2ca00"/>
<rect x="1026" y="83" width="5" height="6" fill="#f0d900"/>
<rect x="1043" y="83" width="5" height="6" fill="#dfc30b"/>
<rect x="1048" y="83" width="6" height="6" fill="#a8c72b"/>
<rect x="1054" y="83" width="5" height="6" fill="#6cc060"/>
<rect x="1059" y="83" width="6" height="6" fill="#f2c200"/>
<rect x="1065" y="83" width="6" height="6" fill="#31b3b9"/>
<rect x="1071" y="83" width="5" height="6" fill="#37b8a1"/>
<rect x="1076" y="83" width="6" height="6" fill="#606cc9"/>
<rect x="1082" y="83" width="5" height="6" fill="#33b1bf"/>
<rect x="1087" y="83" width="6" height="6" fill="#605cbf"/>
<rect x="1093" y="83" width="5" height="6" fill="#5d51b6"/>
<rect x="1098" y="83" width="6" height="6" fill="#48ba88"/>
<rect x="1104" y="83" width="6" height="6" fill="#5291db"/>
<rect x="1110" y="83" width="5" height="6" fill="#6160c3"/>
<rect x="1115" y="83" width="6" height="6" fill="#5f59bd"/>
<rect x="1121" y="83" width="5" height="6" fill="#4e2588"/>
<rect x="1126" y="83" width="6" height="6" fill="#50298f"/>
<rect x="1132" y="83" width="6" height="6" fill="#5c4eb4"/>
<rect x="1138" y="83" width="5" height="6" fill="#4b1f80"/>
<rect x="1143" y="83" width="6" height="6" fill="#583ea6"/>
<rect x="1149" y="83" width="5" height="6" fill="#4b1f80"/>
<rect x="1154" y="83" width="6" height="6" fill="#533199"/>
<rect x="1160" y="83" width="5" height="6" fill="#4b1f80"/>
<rect x="1037" y="89" width="6" height="5" fill="#e3c309"/>
<rect x="1043" y="89" width="5" height="5" fill="#63bf69"/>
<rect x="1048" y="89" width="6" height="5" fill="#a1c830"/>
<rect x="1054" y="89" width="5" height="5" fill="#b6c623"/>
<rect x="1059" y="89" width="6" height="5" fill="#45ba8b"/>
<rect x="1065" y="89" width="6" height="5" fill="#32b2be"/>
<rect x="1071" y="89" width="5" height="5" fill="#40b993"/>
<rect x="1076" y="89" width="6" height="5" fill="#45a1e0"/>
<rect x="1082" y="89" width="5" height="5" fill="#31b3ba"/>
<rect x="1087" y="89" width="6" height="5" fill="#5c80d4"/>
<rect x="1093" y="89" width="5" height="5" fill="#30b4b8"/>
<rect x="1098" y="89" width="6" height="5" fill="#6160c2"/>
<rect x="1104" y="89" width="6" height="5" fill="#55369f"/>
<rect x="1110" y="89" width="5" height="5" fill="#5e53b7"/>
<rect x="1115" y="89" width="6" height="5" fill="#54339c"/>
<rect x="1121" y="89" width="5" height="5" fill="#502a90"/>
<rect x="1126" y="89" width="6" height="5" fill="#5639a2"/>
<rect x="1132" y="89" width="6" height="5" fill="#5e54b8"/>
<rect x="1138" y="89" width="5" height="5" fill="#4b1f80"/>
<rect x="1143" y="89" width="6" height="5" fill="#533098"/>
<rect x="1149" y="89" width="5" height="5" fill="#512b92"/>
<rect x="1154" y="89" width="11" height="5" fill="#4b1f80"/>
<rect x="1020" y="94" width="6" height="6" fill="#eee000"/>
<rect x="1026" y="94" width="5" height="6" fill="#f0d900"/>
<rect x="1031" y="94" width="6" height="6" fill="#e9c305"/>
<rect x="1037" y="94" width="6" height="6" fill="#b6c623"/>
<rect x="1043" y="94" width="5" height="6" fill="#9ec832"/>
<rect x="1048" y="94" width="6" height="6" fill="#4ebb7f"/>
<rect x="1054" y="94" width="5" height="6" fill="#47ba89"/>
<rect x="1059" y="94" width="6" height="6" fill="#b5c624"/>
<rect x="1065" y="94" width="6" height="6" fill="#33b7a6"/>
<rect x="1071" y="94" width="5" height="6" fill="#3ca9d8"/>
<rect x="1076" y="94" width="6" height="6" fill="#3eb997"/>
<rect x="1082" y="94" width="5" height="6" fill="#6166c6"/>
<rect x="1087" y="94" width="6" height="6" fill="#3fa7de"/>
<rect x="1093" y="94" width="5" height="6" fill="#5b81d4"/>
<rect x="1098" y="94" width="6" height="6" fill="#6261c3"/>
<rect x="1104" y="94" width="6" height="6" fill="#605bbf"/>
<rect x="1110" y="94" width="5" height="6" fill="#5f57bb"/>
<rect x="1115" y="94" width="6" height="6" fill="#5d51b6"/>
<rect x="1121" y="94" width="5" height="6" fill="#499bde"/>
<rect x="1126" y="94" width="6" height="6" fill="#5d51b6"/>
<rect x="1132" y="94" width="6" height="6" fill="#532f97"/>
<rect x="1138" y="94" width="5" height="6" fill="#5840a8"/>
<rect x="1143" y="94" width="6" height="6" fill="#6263c5"/>
<rect x="1149" y="94" width="5" height="6" fill="#4b1f80"/>
<rect x="1154" y="94" width="6" height="6" fill="#605bbf"/>
<rect x="1160" y="94" width="5" height="6" fill="#573ba3"/>
<rect x="1009" y="100" width="6" height="6" fill="#f2ca00"/>
<rect x="1031" y="100" width="6" height="6" fill="#f2d200"/>
<rect x="1037" y="100" width="6" height="6" fill="#89c545"/>
<rect x="1043" y="100" width="5" height="6" fill="#f2c300"/>
<rect x="1048" y="100" width="6" height="6" fill="#72c15a"/>
<rect x="1054" y="100" width="5" height="6" fill="#4bbb83"/>
<rect x="1059" y="100" width="6" height="6" fill="#5a87d7"/>
<rect x="1065" y="100" width="6" height="6" fill="#52bc78"/>
<rect x="1071" y="100" width="5" height="6" fill="#5c80d4"/>
<rect x="1076" y="100" width="6" height="6" fill="#2fb4b6"/>
<rect x="1082" y="100" width="5" height="6" fill="#5f56ba"/>
<rect x="1087" y="100" width="6" height="6" fill="#605abe"/>
<rect x="1093" y="100" width="5" height="6" fill="#606dca"/>
<rect x="1098" y="100" width="6" height="6" fill="#5b48ae"/>
<rect x="1104" y="100" width="6" height="6" fill="#55349e"/>
<rect x="1110" y="100" width="5" height="6" fill="#606bc9"/>
<rect x="1115" y="100" width="6" height="6" fill="#605cbf"/>
<rect x="1121" y="100" width="5" height="6" fill="#5c4cb2"/>
<rect x="1126" y="100" width="6" height="6" fill="#533098"/>
<rect x="1132" y="100" width="6" height="6" fill="#4e2588"/>
<rect x="1138" y="100" width="5" height="6" fill="#4f288d"/>
<rect x="1143" y="100" width="22" height="6" fill="#4b1f80"/>
<rect x="1009" y="106" width="6" height="6" fill="#f0d900"/>
<rect x="1026" y="106" width="5" height="6" fill="#f2c500"/>
<rect x="1031" y="106" width="6" height="6" fill="#f2c800"/>
<rect x="1037" y="106" width="6" height="6" fill="#d8c40f"/>
<rect x="1043" y="106" width="5" height="6" fill="#4abb84"/>
<rect x="1048" y="106" width="6" height="6" fill="#2fb6ac"/>
<rect x="1054" y="106" width="5" height="6" fill="#e3c309"/>
<rect x="1059" y="106" width="6" height="6" fill="#37adcb"/>
<rect x="1065" y="106" width="6" height="6" fill="#32b7a8"/>
<rect x="1071" y="106" width="5" height="6" fill="#469fe0"/>
<rect x="1076" y="106" width="6" height="6" fill="#5f70cc"/>
<rect x="1082" y="106" width="5" height="6" fill="#578cd9"/>
<rect x="1087" y="106" width="6" height="6" fill="#5941a9"/>
<rect x="1093" y="106" width="5" height="6" fill="#5942aa"/>
<rect x="1098" y="106" width="6" height="6" fill="#6263c4"/>
<rect x="1104" y="106" width="6" height="6" fill="#4e2589"/>
<rect x="1110" y="106" width="5" height="6" fill="#5a44ac"/>
<rect x="1115" y="106" width="6" height="6" fill="#6168c7"/>
<rect x="1121" y="106" width="5" height="6" fill="#5638a1"/>
<rect x="1126" y="106" width="6" height="6" fill="#55359f"/>
<rect x="1132" y="106" width="6" height="6" fill="#5e54b9"/>
<rect x="1138" y="106" width="5" height="6" fill="#55339d"/>
<rect x="1143" y="106" width="6" height="6" fill="#5f6fcb"/>
<rect x="1149" y="106" width="5" height="6" fill="#54329c"/>
<rect x="1154" y="106" width="11" height="6" fill="#4b1f80"/>
<rect x="1026" y="112" width="5" height="6" fill="#f2cf00"/>
<rect x="1031" y="112" width="6" height="6" fill="#f2c700"/>
<rect x="1037" y="112" width="6" height="6" fill="#6dc05f"/>
<rect x="1043" y="112" width="5" height="6" fill="#32b2bc"/>
<rect x="1048" y="112" width="6" height="6" fill="#4a9bde"/>
<rect x="1054" y="112" width="5" height="6" fill="#36afc7"/>
<rect x="1059" y="112" width="6" height="6" fill="#39b89e"/>
<rect x="1065" y="112" width="6" height="6" fill="#3ea8dc"/>
<rect x="1071" y="112" width="5" height="6" fill="#5f70cc"/>
<rect x="1076" y="112" width="6" height="6" fill="#5e77cf"/>
<rect x="1082" y="112" width="5" height="6" fill="#3da9da"/>
<rect x="1087" y="112" width="6" height="6" fill="#5a87d7"/>
<rect x="1093" y="112" width="5" height="6" fill="#55339d"/>
<rect x="1098" y="112" width="6" height="6" fill="#606dca"/>
<rect x="1104" y="112" width="6" height="6" fill="#5e74ce"/>
<rect x="1110" y="112" width="5" height="6" fill="#522e95"/>
<rect x="1115" y="112" width="6" height="6" fill="#502a90"/>
<rect x="1121" y="112" width="5" height="6" fill="#41a5e2"/>
<rect x="1126" y="112" width="6" height="6" fill="#532f97"/>
<rect x="1132" y="112" width="6" height="6" fill="#4b1f80"/>
<rect x="1138" y="112" width="5" height="6" fill="#5a44ac"/>
<rect x="1143" y="112" width="22" height="6" fill="#4b1f80"/>
<rect x="992" y="118" width="6" height="5" fill="#eee000"/>
<rect x="1004" y="118" width="5" height="5" fill="#f0d900"/>
<rect x="1015" y="118" width="11" height="5" fill="#e9c305"/>
<rect x="1026" y="118" width="5" height="5" fill="#38b89f"/>
<rect x="1031" y="118" width="6" height="5" fill="#f2c600"/>
<rect x="1037" y="118" width="6" height="5" fill="#acc729"/>
<rect x="1043" y="118" width="5" height="5" fill="#49bb86"/>
<rect x="1048" y="118" width="6" height="5" fill="#2eb6ae"/>
<rect x="1054" y="118" width="5" height="5" fill="#3cb899"/>
<rect x="1059" y="118" width="6" height="5" fill="#5f70cb"/>
<rect x="1065" y="118" width="6" height="5" fill="#42a4e1"/>
<rect x="1071" y="118" width="5" height="5" fill="#5e76cf"/>
<rect x="1076" y="118" width="6" height="5" fill="#583fa7"/>
<rect x="1082" y="118" width="5" height="5" fill="#6263c4"/>
<rect x="1087" y="118" width="6" height="5" fill="#605abe"/>
<rect x="1093" y="118" width="5" height="5" fill="#548fda"/>
<rect x="1098" y="118" width="6" height="5" fill="#6165c6"/>
<rect x="1104" y="118" width="11" height="5" fill="#4b1f80"/>
<rect x="1115" y="118" width="6" height="5" fill="#54329b"/>
<rect x="1121" y="118" width="5" height="5" fill="#512d93"/>
<rect x="1126" y="118" width="39" height="5" fill="#4b1f80"/>
<rect x="1015" y="123" width="5" height="6" fill="#f2d200"/>
<rect x="1020" y="123" width="6" height="6" fill="#51bc7a"/>
<rect x="1026" y="123" width="5" height="6" fill="#44ba8e"/>
<rect x="1031" y="123" width="6" height="6" fill="#49bb86"/>
<rect x="1037" y="123" width="6" height="6" fill="#4f95dc"/>
<rect x="1043" y="123" width="5" height="6" fill="#5192db"/>
<rect x="1048" y="123" width="6" height="6" fill="#588bd9"/>
<rect x="1054" y="123" width="5" height="6" fill="#5e52b7"/>
<rect x="1059" y="123" width="6" height="6" fill="#35b0c4"/>
<rect x="1065" y="123" width="6" height="6" fill="#5193dc"/>
<rect x="1071" y="123" width="5" height="6" fill="#5d51b6"/>
<rect x="1076" y="123" width="6" height="6" fill="#5b4bb1"/>
<rect x="1082" y="123" width="5" height="6" fill="#6160c2"/>
<rect x="1087" y="123" width="6" height="6" fill="#5f72cc"/>
<rect x="1093" y="123" width="5" height="6" fill="#605bbe"/>
<rect x="1098" y="123" width="6" height="6" fill="#4b1f80"/>
<rect x="1104" y="123" width="6" height="6" fill="#5c4db3"/>
<rect x="1110" y="123" width="5" height="6" fill="#4b1f80"/>
<rect x="1115" y="123" width="6" height="6" fill="#4c2284"/>
<rect x="1121" y="123" width="5" height="6" fill="#5a44ac"/>
<rect x="1126" y="123" width="39" height="6" fill="#4b1f80"/>
<rect x="998" y="129" width="6" height="6" fill="#f2c500"/>
<rect x="1009" y="129" width="6" height="6" fill="#44ba8d"/>
<rect x="1015" y="129" width="5" height="6" fill="#76c256"/>
<rect x="1020" y="129" width="6" height="6" fill="#f2c700"/>
<rect x="1026" y="129" width="5" height="6" fill="#548fda"/>
<rect x="1031" y="129" width="6" height="6" fill="#2eb6ae"/>
<rect x="1037" y="129" width="6" height="6" fill="#573ca5"/>
<rect x="1043" y="129" width="5" height="6" fill="#48ba86"/>
<rect x="1048" y="129" width="6" height="6" fill="#4e95dc"/>
<rect x="1054" y="129" width="5" height="6" fill="#5a46ad"/>
<rect x="1059" y="129" width="6" height="6" fill="#5a86d7"/>
<rect x="1065" y="129" width="6" height="6" fill="#5c7dd2"/>
<rect x="1071" y="129" width="5" height="6" fill="#5a87d7"/>
<rect x="1076" y="129" width="6" height="6" fill="#5e52b7"/>
<rect x="1082" y="129" width="5" height="6" fill="#5e55b9"/>
<rect x="1087" y="129" width="6" height="6" fill="#54319a"/>
<rect x="1093" y="129" width="5" height="6" fill="#4c2284"/>
<rect x="1098" y="129" width="6" height="6" fill="#54329c"/>
<rect x="1104" y="129" width="61" height="6" fill="#4b1f80"/>
<rect x="1004" y="135" width="5" height="6" fill="#f2c300"/>
<rect x="1009" y="135" width="6" height="6" fill="#4fbc7c"/>
<rect x="1015" y="135" width="5" height="6" fill="#5a88d8"/>
<rect x="1020" y="135" width="6" height="6" fill="#37aeca"/>
<rect x="1026" y="135" width="5" height="6" fill="#4a9ade"/>
<rect x="1031" y="135" width="6" height="6" fill="#3ea7dd"/>
<rect x="1037" y="135" width="6" height="6" fill="#37aec9"/>
<rect x="1043" y="135" width="5" height="6" fill="#499cdf"/>
<rect x="1048" y="135" width="6" height="6" fill="#5c7fd3"/>
<rect x="1054" y="135" width="5" height="6" fill="#4b99de"/>
<rect x="1059" y="135" width="6" height="6" fill="#5840a8"/>
<rect x="1065" y="135" width="6" height="6" fill="#615dc0"/>
<rect x="1071" y="135" width="5" height="6" fill="#606dca"/>
<rect x="1076" y="135" width="6" height="6" fill="#573ca4"/>
<rect x="1082" y="135" width="5" height="6" fill="#4b1f80"/>
<rect x="1087" y="135" width="6" height="6" fill="#502a90"/>
<rect x="1093" y="135" width="5" height="6" fill="#512c93"/>
<rect x="1098" y="135" width="6" height="6" fill="#5b84d6"/>
<rect x="1104" y="135" width="17" height="6" fill="#4b1f80"/>
<rect x="1121" y="135" width="5" height="6" fill="#5f6fcb"/>
<rect x="1126" y="135" width="39" height="6" fill="#4b1f80"/>
<rect x="976" y="141" width="5" height="6" fill="#f2d200"/>
<rect x="992" y="141" width="6" height="6" fill="#f0d900"/>
<rect x="998" y="141" width="6" height="6" fill="#48ba87"/>
<rect x="1004" y="141" width="5" height="6" fill="#7dc350"/>
<rect x="1009" y="141" width="6" height="6" fill="#35b7a4"/>
<rect x="1015" y="141" width="5" height="6" fill="#41b992"/>
<rect x="1020" y="141" width="6" height="6" fill="#3fa7df"/>
<rect x="1026" y="141" width="5" height="6" fill="#44a1e0"/>
<rect x="1031" y="141" width="6" height="6" fill="#33b7a7"/>
<rect x="1037" y="141" width="6" height="6" fill="#43a3e1"/>
<rect x="1043" y="141" width="5" height="6" fill="#5291db"/>
<rect x="1048" y="141" width="6" height="6" fill="#479edf"/>
<rect x="1054" y="141" width="5" height="6" fill="#5f59bc"/>
<rect x="1059" y="141" width="6" height="6" fill="#522e95"/>
<rect x="1065" y="141" width="6" height="6" fill="#522e96"/>
<rect x="1071" y="141" width="5" height="6" fill="#4b1f80"/>
<rect x="1076" y="141" width="6" height="6" fill="#5a47ae"/>
<rect x="1082" y="141" width="5" height="6" fill="#522d94"/>
<rect x="1087" y="141" width="6" height="6" fill="#5941a9"/>
<rect x="1093" y="141" width="11" height="6" fill="#4b1f80"/>
<rect x="1104" y="141" width="6" height="6" fill="#605bbf"/>
<rect x="1110" y="141" width="5" height="6" fill="#4b1f80"/>
<rect x="1115" y="141" width="6" height="6" fill="#54329c"/>
<rect x="1121" y="141" width="44" height="6" fill="#4b1f80"/>
<rect x="981" y="147" width="6" height="5" fill="#eee000"/>
<rect x="987" y="147" width="5" height="5" fill="#f2ca00"/>
<rect x="992" y="147" width="6" height="5" fill="#f2d200"/>
<rect x="998" y="147" width="6" height="5" fill="#42b990"/>
<rect x="1004" y="147" width="5" height="5" fill="#3ca9d8"/>
<rect x="1009" y="147" width="6" height="5" fill="#3da9d9"/>
<rect x="1015" y="147" width="5" height="5" fill="#5291db"/>
<rect x="1020" y="147" width="6" height="5" fill="#3da9da"/>
<rect x="1026" y="147" width="5" height="5" fill="#5c81d4"/>
<rect x="1031" y="147" width="6" height="5" fill="#6260c3"/>
<rect x="1037" y="147" width="6" height="5" fill="#5d4fb4"/>
<rect x="1043" y="147" width="5" height="5" fill="#4e2589"/>
<rect x="1048" y="147" width="6" height="5" fill="#5942aa"/>
<rect x="1054" y="147" width="5" height="5" fill="#5f59bc"/>
<rect x="1059" y="147" width="6" height="5" fill="#4d2487"/>
<rect x="1065" y="147" width="6" height="5" fill="#55349e"/>
<rect x="1071" y="147" width="5" height="5" fill="#5d50b5"/>
<rect x="1076" y="147" width="6" height="5" fill="#4f268b"/>
<rect x="1082" y="147" width="5" height="5" fill="#55339d"/>
<rect x="1087" y="147" width="78" height="5" fill="#4b1f80"/>
<rect x="987" y="152" width="5" height="6" fill="#e9c305"/>
<rect x="992" y="152" width="6" height="6" fill="#f2c200"/>
<rect x="998" y="152" width="6" height="6" fill="#37b8a2"/>
<rect x="1004" y="152" width="5" height="6" fill="#2eb6ae"/>
<rect x="1009" y="152" width="6" height="6" fill="#6160c2"/>
<rect x="1015" y="152" width="5" height="6" fill="#3da8da"/>
<rect x="1020" y="152" width="6" height="6" fill="#41a5e2"/>
<rect x="1026" y="152" width="5" height="6" fill="#4f94dc"/>
<rect x="1031" y="152" width="6" height="6" fill="#5b85d7"/>
<rect x="1037" y="152" width="6" height="6" fill="#5637a0"/>
<rect x="1043" y="152" width="5" height="6" fill="#5943aa"/>
<rect x="1048" y="152" width="6" height="6" fill="#615dc0"/>
<rect x="1054" y="152" width="5" height="6" fill="#4b1f80"/>
<rect x="1059" y="152" width="6" height="6" fill="#54329b"/>
<rect x="1065" y="152" width="6" height="6" fill="#5f71cc"/>
<rect x="1071" y="152" width="94" height="6" fill="#4b1f80"/>
<rect x="970" y="158" width="6" height="6" fill="#f2c500"/>
<rect x="976" y="158" width="5" height="6" fill="#f2d200"/>
<rect x="981" y="158" width="6" height="6" fill="#e9c305"/>
<rect x="987" y="158" width="5" height="6" fill="#95c63a"/>
<rect x="992" y="158" width="6" height="6" fill="#acc729"/>
<rect x="998" y="158" width="6" height="6" fill="#55bc75"/>
<rect x="1004" y="158" width="5" height="6" fill="#83c44b"/>
<rect x="1009" y="158" width="6" height="6" fill="#39b89e"/>
<rect x="1015" y="158" width="5" height="6" fill="#5094dc"/>
<rect x="1020" y="158" width="6" height="6" fill="#5c4bb1"/>
<rect x="1026" y="158" width="5" height="6" fill="#4b99de"/>
<rect x="1031" y="158" width="6" height="6" fill="#6260c3"/>
<rect x="1037" y="158" width="6" height="6" fill="#6168c7"/>
<rect x="1043" y="158" width="5" height="6" fill="#50298f"/>
<rect x="1048" y="158" width="6" height="6" fill="#4f288d"/>
<rect x="1054" y="158" width="5" height="6" fill="#55339d"/>
<rect x="1059" y="158" width="6" height="6" fill="#5d52b7"/>
<rect x="1065" y="158" width="6" height="6" fill="#4f288d"/>
<rect x="1071" y="158" width="94" height="6" fill="#4b1f80"/>
<rect x="965" y="164" width="5" height="6" fill="#f2d200"/>
<rect x="976" y="164" width="5" height="6" fill="#f0d900"/>
<rect x="981" y="164" width="6" height="6" fill="#e9c305"/>
<rect x="987" y="164" width="5" height="6" fill="#6ec05e"/>
<rect x="992" y="164" width="6" height="6" fill="#edc203"/>
<rect x="998" y="164" width="6" height="6" fill="#36aec9"/>
<rect x="1004" y="164" width="5" height="6" fill="#469fe0"/>
<rect x="1009" y="164" width="6" height="6" fill="#34b7a6"/>
<rect x="1015" y="164" width="5" height="6" fill="#5291db"/>
<rect x="1020" y="164" width="6" height="6" fill="#5a46ac"/>
<rect x="1026" y="164" width="5" height="6" fill="#5f71cc"/>
<rect x="1031" y="164" width="6" height="6" fill="#5638a1"/>
<rect x="1037" y="164" width="6" height="6" fill="#4f95dc"/>
<rect x="1043" y="164" width="5" height="6" fill="#50298e"/>
<rect x="1048" y="164" width="6" height="6" fill="#512b91"/>
<rect x="1054" y="164" width="5" height="6" fill="#4b1f80"/>
<rect x="1059" y="164" width="6" height="6" fill="#4e2689"/>
<rect x="1065" y="164" width="100" height="6" fill="#4b1f80"/>
<rect x="965" y="170" width="5" height="6" fill="#f2c500"/>
<rect x="981" y="170" width="6" height="6" fill="#99c737"/>
<rect x="987" y="170" width="5" height="6" fill="#f1d600"/>
<rect x="992" y="170" width="6" height="6" fill="#44a1e0"/>
<rect x="998" y="170" width="6" height="6" fill="#3fb994"/>
<rect x="1004" y="170" width="5" height="6" fill="#42a4e1"/>
<rect x="1009" y="170" width="6" height="6" fill="#45a0e0"/>
<rect x="1015" y="170" width="5" height="6" fill="#548fda"/>
<rect x="1020" y="170" width="6" height="6" fill="#5d7ad0"/>
<rect x="1026" y="170" width="5" height="6" fill="#5c4cb2"/>
<rect x="1031" y="170" width="6" height="6" fill="#512c92"/>
<rect x="1037" y="170" width="6" height="6" fill="#5e76cf"/>
<rect x="1043" y="170" width="5" height="6" fill="#5c4db2"/>
<rect x="1048" y="170" width="6" height="6" fill="#5b81d4"/>
<rect x="1054" y="170" width="5" height="6" fill="#55349d"/>
<rect x="1059" y="170" width="23" height="6" fill="#4b1f80"/>
<rect x="1082" y="170" width="5" height="6" fill="#605bbf"/>
<rect x="1087" y="170" width="78" height="6" fill="#4b1f80"/>
<rect x="970" y="176" width="6" height="5" fill="#f2d200"/>
<rect x="976" y="176" width="5" height="5" fill="#f2ca00"/>
<rect x="981" y="176" width="6" height="5" fill="#7fc34e"/>
<rect x="987" y="176" width="5" height="5" fill="#a5c82d"/>
<rect x="992" y="176" width="6" height="5" fill="#3fa7de"/>
<rect x="998" y="176" width="6" height="5" fill="#4ebb7f"/>
<rect x="1004" y="176" width="5" height="5" fill="#33b1bf"/>
<rect x="1009" y="176" width="6" height="5" fill="#615ec1"/>
<rect x="1015" y="176" width="5" height="5" fill="#5f59bc"/>
<rect x="1020" y="176" width="6" height="5" fill="#6169c8"/>
<rect x="1026" y="176" width="5" height="5" fill="#605bbe"/>
<rect x="1031" y="176" width="6" height="5" fill="#4b1f80"/>
<rect x="1037" y="176" width="6" height="5" fill="#5b48af"/>
<rect x="1043" y="176" width="5" height="5" fill="#5e75ce"/>
<rect x="1048" y="176" width="6" height="5" fill="#502a90"/>
<rect x="1054" y="176" width="5" height="5" fill="#605bbf"/>
<rect x="1059" y="176" width="17" height="5" fill="#4b1f80"/>
<rect x="1076" y="176" width="6" height="5" fill="#573ba3"/>
<rect x="1082" y="176" width="83" height="5" fill="#4b1f80"/>
<rect x="976" y="181" width="5" height="6" fill="#f2ca00"/>
<rect x="981" y="181" width="6" height="6" fill="#4cbb82"/>
<rect x="987" y="181" width="5" height="6" fill="#95c63a"/>
<rect x="992" y="181" width="6" height="6" fill="#35b7a4"/>
<rect x="998" y="181" width="6" height="6" fill="#4f95dc"/>
<rect x="1004" y="181" width="5" height="6" fill="#46ba8a"/>
<rect x="1009" y="181" width="6" height="6" fill="#41a5e2"/>
<rect x="1015" y="181" width="5" height="6" fill="#5a47ae"/>
<rect x="1020" y="181" width="6" height="6" fill="#3fa7df"/>
<rect x="1026" y="181" width="5" height="6" fill="#606dca"/>
<rect x="1031" y="181" width="6" height="6" fill="#583ea6"/>
<rect x="1037" y="181" width="6" height="6" fill="#54339c"/>
<rect x="1043" y="181" width="5" height="6" fill="#4f288d"/>
<rect x="1048" y="181" width="17" height="6" fill="#4b1f80"/>
<rect x="1065" y="181" width="6" height="6" fill="#5d52b6"/>
<rect x="1071" y="181" width="94" height="6" fill="#4b1f80"/>
<rect x="970" y="187" width="6" height="6" fill="#f2c500"/>
<rect x="976" y="187" width="5" height="6" fill="#f2d200"/>
<rect x="981" y="187" width="6" height="6" fill="#39b89e"/>
<rect x="987" y="187" width="5" height="6" fill="#33b1bf"/>
<rect x="992" y="187" width="6" height="6" fill="#37b8a1"/>
<rect x="998" y="187" width="6" height="6" fill="#48ba87"/>
<rect x="1004" y="187" width="5" height="6" fill="#6261c4"/>
<rect x="1009" y="187" width="6" height="6" fill="#55359f"/>
<rect x="1015" y="187" width="5" height="6" fill="#5d50b6"/>
<rect x="1020" y="187" width="6" height="6" fill="#54339c"/>
<rect x="1026" y="187" width="5" height="6" fill="#5f57bb"/>
<rect x="1031" y="187" width="6" height="6" fill="#5b86d7"/>
<rect x="1037" y="187" width="6" height="6" fill="#54329c"/>
<rect x="1043" y="187" width="122" height="6" fill="#4b1f80"/>
<rect x="959" y="193" width="6" height="6" fill="#f2ca00"/>
<rect x="976" y="193" width="5" height="6" fill="#dfc30b"/>
<rect x="981" y="193" width="6" height="6" fill="#87c447"/>
<rect x="987" y="193" width="5" height="6" fill="#95c63a"/>
<rect x="992" y="193" width="6" height="6" fill="#3db997"/>
<rect x="998" y="193" width="6" height="6" fill="#558eda"/>
<rect x="1004" y="193" width="5" height="6" fill="#6262c4"/>
<rect x="1009" y="193" width="6" height="6" fill="#5c4eb4"/>
<rect x="1015" y="193" width="5" height="6" fill="#522d94"/>
<rect x="1020" y="193" width="6" height="6" fill="#6165c6"/>
<rect x="1026" y="193" width="5" height="6" fill="#512c93"/>
<rect x="1031" y="193" width="6" height="6" fill="#532f97"/>
<rect x="1037" y="193" width="6" height="6" fill="#533099"/>
<rect x="1043" y="193" width="122" height="6" fill="#4b1f80"/>
<rect x="953" y="199" width="6" height="6" fill="#f2d200"/>
<rect x="965" y="199" width="11" height="6" fill="#e9c305"/>
<rect x="976" y="199" width="5" height="6" fill="#f2c700"/>
<rect x="981" y="199" width="6" height="6" fill="#43ba8e"/>
<rect x="987" y="199" width="5" height="6" fill="#3baad5"/>
<rect x="992" y="199" width="6" height="6" fill="#3da8db"/>
<rect x="998" y="199" width="6" height="6" fill="#489ddf"/>
<rect x="1004" y="199" width="5" height="6" fill="#588ad9"/>
<rect x="1009" y="199" width="6" height="6" fill="#5e74cd"/>
<rect x="1015" y="199" width="5" height="6" fill="#5d4fb4"/>
<rect x="1020" y="199" width="6" height="6" fill="#4c2183"/>
<rect x="1026" y="199" width="5" height="6" fill="#4b1f80"/>
<rect x="1031" y="199" width="6" height="6" fill="#512b91"/>
<rect x="1037" y="199" width="6" height="6" fill="#5f6fcb"/>
<rect x="1043" y="199" width="122" height="6" fill="#4b1f80"/>
<rect x="976" y="205" width="5" height="5" fill="#b2c725"/>
<rect x="981" y="205" width="6" height="5" fill="#43ba8f"/>
<rect x="987" y="205" width="5" height="5" fill="#588ad9"/>
<rect x="992" y="205" width="6" height="5" fill="#499cdf"/>
<rect x="998" y="205" width="6" height="5" fill="#4b99de"/>
<rect x="1004" y="205" width="5" height="5" fill="#605bbe"/>
<rect x="1009" y="205" width="6" height="5" fill="#5b49b0"/>
<rect x="1015" y="205" width="5" height="5" fill="#5b47ae"/>
<rect x="1020" y="205" width="6" height="5" fill="#4b1f80"/>
<rect x="1026" y="205" width="5" height="5" fill="#512c92"/>
<rect x="1031" y="205" width="6" height="5" fill="#54329c"/>
<rect x="1037" y="205" width="128" height="5" fill="#4b1f80"/>
<rect x="953" y="210" width="6" height="6" fill="#f0d900"/>
<rect x="959" y="210" width="6" height="6" fill="#eee000"/>
<rect x="965" y="210" width="5" height="6" fill="#f2d200"/>
<rect x="970" y="210" width="6" height="6" fill="#f2c200"/>
<rect x="976" y="210" width="5" height="6" fill="#37adcb"/>
<rect x="981" y="210" width="6" height="6" fill="#4f95dc"/>
<rect x="987" y="210" width="5" height="6" fill="#30b4b7"/>
<rect x="992" y="210" width="6" height="6" fill="#6262c4"/>
<rect x="998" y="210" width="6" height="6" fill="#4b1f80"/>
<rect x="1004" y="210" width="5" height="6" fill="#5e52b7"/>
<rect x="1009" y="210" width="6" height="6" fill="#5d51b6"/>
<rect x="1015" y="210" width="5" height="6" fill="#532f97"/>
<rect x="1020" y="210" width="6" height="6" fill="#54329c"/>
<rect x="1026" y="210" width="139" height="6" fill="#4b1f80"/>
<rect x="959" y="216" width="6" height="6" fill="#f2ca00"/>
<rect x="970" y="216" width="6" height="6" fill="#cac517"/>
<rect x="976" y="216" width="5" height="6" fill="#3db998"/>
<rect x="981" y="216" width="6" height="6" fill="#5b85d6"/>
<rect x="987" y="216" width="5" height="6" fill="#573aa3"/>
<rect x="992" y="216" width="6" height="6" fill="#606cc9"/>
<rect x="998" y="216" width="6" height="6" fill="#5d50b5"/>
<rect x="1004" y="216" width="5" height="6" fill="#4d2386"/>
<rect x="1009" y="216" width="6" height="6" fill="#5c4db3"/>
<rect x="1015" y="216" width="5" height="6" fill="#533098"/>
<rect x="1020" y="216" width="145" height="6" fill="#4b1f80"/>
<rect x="959" y="222" width="6" height="6" fill="#f2d200"/>
<rect x="965" y="222" width="5" height="6" fill="#f2c600"/>
<rect x="970" y="222" width="6" height="6" fill="#7bc252"/>
<rect x="976" y="222" width="5" height="6" fill="#40b994"/>
<rect x="981" y="222" width="6" height="6" fill="#5a86d7"/>
<rect x="987" y="222" width="5" height="6" fill="#5f70cb"/>
<rect x="992" y="222" width="6" height="6" fill="#5a88d8"/>
<rect x="998" y="222" width="6" height="6" fill="#5b49b0"/>
<rect x="1004" y="222" width="5" height="6" fill="#4b1f80"/>
<rect x="1009" y="222" width="6" height="6" fill="#573ca5"/>
<rect x="1015" y="222" width="150" height="6" fill="#4b1f80"/>
<rect x="965" y="228" width="5" height="6" fill="#6dc05f"/>
<rect x="970" y="228" width="6" height="6" fill="#adc728"/>
<rect x="976" y="228" width="5" height="6" fill="#45a0e0"/>
<rect x="981" y="228" width="6" height="6" fill="#5e76cf"/>
<rect x="987" y="228" width="5" height="6" fill="#5a46ad"/>
<rect x="992" y="228" width="6" height="6" fill="#605abe"/>
<rect x="998" y="228" width="6" height="6" fill="#606dca"/>
<rect x="1004" y="228" width="5" height="6" fill="#502a8f"/>
<rect x="1009" y="228" width="11" height="6" fill="#4b1f80"/>
<rect x="1020" y="228" width="6" height="6" fill="#5d52b6"/>
<rect x="1026" y="228" width="139" height="6" fill="#4b1f80"/>
<rect x="948" y="234" width="5" height="5" fill="#eee000"/>
<rect x="965" y="234" width="5" height="5" fill="#e8c306"/>
<rect x="970" y="234" width="6" height="5" fill="#6dc05f"/>
<rect x="976" y="234" width="5" height="5" fill="#32b2be"/>
<rect x="981" y="234" width="6" height="5" fill="#5d7ad1"/>
<rect x="987" y="234" width="5" height="5" fill="#6160c2"/>
<rect x="992" y="234" width="6" height="5" fill="#5f58bc"/>
<rect x="998" y="234" width="6" height="5" fill="#4d2285"/>
<rect x="1004" y="234" width="5" height="5" fill="#55349e"/>
<rect x="1009" y="234" width="6" height="5" fill="#605bbf"/>
<rect x="1015" y="234" width="150" height="5" fill="#4b1f80"/>
<rect x="953" y="239" width="6" height="6" fill="#f0d900"/>
<rect x="965" y="239" width="5" height="6" fill="#5abd71"/>
<rect x="970" y="239" width="6" height="6" fill="#3bb89b"/>
<rect x="976" y="239" width="5" height="6" fill="#5c7dd2"/>
<rect x="981" y="239" width="6" height="6" fill="#5c7ed3"/>
<rect x="987" y="239" width="5" height="6" fill="#5f59bc"/>
<rect x="992" y="239" width="6" height="6" fill="#55339d"/>
<rect x="998" y="239" width="6" height="6" fill="#532f97"/>
<rect x="1004" y="239" width="161" height="6" fill="#4b1f80"/>
<rect x="937" y="245" width="5" height="6" fill="#f2ca00"/>
<rect x="965" y="245" width="5" height="6" fill="#51bc79"/>
<rect x="970" y="245" width="6" height="6" fill="#32b1be"/>
<rect x="976" y="245" width="5" height="6" fill="#499bde"/>
<rect x="981" y="245" width="6" height="6" fill="#5b48af"/>
<rect x="987" y="245" width="5" height="6" fill="#5e54b9"/>
<rect x="992" y="245" width="6" height="6" fill="#522e96"/>
<rect x="998" y="245" width="167" height="6" fill="#4b1f80"/>
<rect x="953" y="251" width="6" height="6" fill="#e9c305"/>
<rect x="959" y="251" width="6" height="6" fill="#81c34d"/>
<rect x="965" y="251" width="5" height="6" fill="#36afc7"/>
<rect x="970" y="251" width="6" height="6" fill="#499cdf"/>
<rect x="976" y="251" width="5" height="6" fill="#5d7bd1"/>
<rect x="981" y="251" width="6" height="6" fill="#605bbe"/>
<rect x="987" y="251" width="5" height="6" fill="#5637a1"/>
<rect x="992" y="251" width="12" height="6" fill="#5d52b6"/>
<rect x="1004" y="251" width="161" height="6" fill="#4b1f80"/>
<rect x="953" y="257" width="6" height="6" fill="#e9c305"/>
<rect x="959" y="257" width="6" height="6" fill="#93c63c"/>
<rect x="965" y="257" width="5" height="6" fill="#6160c2"/>
<rect x="970" y="257" width="6" height="6" fill="#5739a3"/>
<rect x="976" y="257" width="5" height="6" fill="#5390db"/>
<rect x="981" y="257" width="6" height="6" fill="#6264c5"/>
<rect x="987" y="257" width="5" height="6" fill="#4d2487"/>
<rect x="992" y="257" width="12" height="6" fill="#4b1f80"/>
<rect x="1004" y="257" width="5" height="6" fill="#5d52b6"/>
<rect x="1009" y="257" width="156" height="6" fill="#4b1f80"/>
<rect x="959" y="263" width="6" height="5" fill="#51bc7a"/>
<rect x="965" y="263" width="5" height="5" fill="#2fb6ad"/>
<rect x="970" y="263" width="6" height="5" fill="#3baad6"/>
<rect x="976" y="263" width="5" height="5" fill="#6059bd"/>
<rect x="981" y="263" width="6" height="5" fill="#6261c3"/>
<rect x="987" y="263" width="11" height="5" fill="#4b1f80"/>
<rect x="998" y="263" width="6" height="5" fill="#5a44ac"/>
<rect x="1004" y="263" width="5" height="5" fill="#5f6fcb"/>
<rect x="1009" y="263" width="156" height="5" fill="#4b1f80"/>
<rect x="942" y="268" width="11" height="6" fill="#e9c305"/>
<rect x="953" y="268" width="6" height="6" fill="#d9c40e"/>
<rect x="959" y="268" width="6" height="6" fill="#c7c519"/>
<rect x="965" y="268" width="5" height="6" fill="#36aec8"/>
<rect x="970" y="268" width="6" height="6" fill="#30b4b8"/>
<rect x="976" y="268" width="5" height="6" fill="#522d94"/>
<rect x="981" y="268" width="6" height="6" fill="#605bbe"/>
<rect x="987" y="268" width="178" height="6" fill="#4b1f80"/>
<rect x="937" y="274" width="5" height="6" fill="#eee000"/>
<rect x="948" y="274" width="5" height="6" fill="#f2ca00"/>
<rect x="953" y="274" width="6" height="6" fill="#f2cb00"/>
<rect x="959" y="274" width="6" height="6" fill="#31b7aa"/>
<rect x="965" y="274" width="5" height="6" fill="#44ba8e"/>
<rect x="970" y="274" width="6" height="6" fill="#63bf69"/>
<rect x="976" y="274" width="5" height="6" fill="#4f288c"/>
<rect x="981" y="274" width="6" height="6" fill="#5a44ac"/>
<rect x="987" y="274" width="178" height="6" fill="#4b1f80"/>
<rect x="937" y="280" width="5" height="6" fill="#f2c500"/>
<rect x="942" y="280" width="6" height="6" fill="#eee000"/>
<rect x="948" y="280" width="5" height="6" fill="#f0d900"/>
<rect x="953" y="280" width="6" height="6" fill="#9ec832"/>
<rect x="959" y="280" width="6" height="6" fill="#37aeca"/>
<rect x="965" y="280" width="5" height="6" fill="#4f95dc"/>
<rect x="970" y="280" width="6" height="6" fill="#5a47ae"/>
<rect x="976" y="280" width="5" height="6" fill="#5a45ac"/>
<rect x="981" y="280" width="184" height="6" fill="#4b1f80"/>
<rect x="931" y="286" width="6" height="6" fill="#eee000"/>
<rect x="953" y="286" width="6" height="6" fill="#b3c725"/>
<rect x="959" y="286" width="6" height="6" fill="#40b993"/>
<rect x="965" y="286" width="5" height="6" fill="#43a2e1"/>
<rect x="970" y="286" width="6" height="6" fill="#4c2284"/>
<rect x="976" y="286" width="5" height="6" fill="#5e55b9"/>
<rect x="981" y="286" width="184" height="6" fill="#4b1f80"/>
<rect x="942" y="292" width="6" height="5" fill="#eee000"/>
<rect x="948" y="292" width="5" height="5" fill="#e9c305"/>
<rect x="953" y="292" width="6" height="5" fill="#93c63c"/>
<rect x="959" y="292" width="6" height="5" fill="#3ca9d8"/>
<rect x="965" y="292" width="5" height="5" fill="#5d78d0"/>
<rect x="970" y="292" width="6" height="5" fill="#522e96"/>
<rect x="976" y="292" width="22" height="5" fill="#4b1f80"/>
<rect x="998" y="292" width="6" height="5" fill="#573ba3"/>
<rect x="1004" y="292" width="161" height="5" fill="#4b1f80"/>
<rect x="953" y="297" width="6" height="6" fill="#cbc517"/>
<rect x="959" y="297" width="6" height="6" fill="#3da8db"/>
<rect x="965" y="297" width="5" height="6" fill="#5e73cd"/>
<rect x="970" y="297" width="6" height="6" fill="#5a86d7"/>
<rect x="976" y="297" width="5" height="6" fill="#4f278c"/>
<rect x="981" y="297" width="11" height="6" fill="#4b1f80"/>
<rect x="992" y="297" width="6" height="6" fill="#5f6fcb"/>
<rect x="998" y="297" width="167" height="6" fill="#4b1f80"/>
<rect x="948" y="303" width="5" height="6" fill="#e9c305"/>
<rect x="953" y="303" width="6" height="6" fill="#86c448"/>
<rect x="959" y="303" width="6" height="6" fill="#2db6b0"/>
<rect x="965" y="303" width="5" height="6" fill="#5d4fb4"/>
<rect x="970" y="303" width="6" height="6" fill="#522e96"/>
<rect x="976" y="303" width="5" height="6" fill="#5e76cf"/>
<rect x="981" y="303" width="184" height="6" fill="#4b1f80"/>
<rect x="931" y="309" width="6" height="6" fill="#f2ca00"/>
<rect x="953" y="309" width="6" height="6" fill="#f2c600"/>
<rect x="959" y="309" width="6" height="6" fill="#45ba8c"/>
<rect x="965" y="309" width="5" height="6" fill="#5c80d4"/>
<rect x="970" y="309" width="22" height="6" fill="#4b1f80"/>
<rect x="992" y="309" width="6" height="6" fill="#5d52b6"/>
<rect x="998" y="309" width="167" height="6" fill="#4b1f80"/>
<rect x="931" y="315" width="6" height="6" fill="#f2c500"/>
<rect x="942" y="315" width="6" height="6" fill="#f2ca00"/>
<rect x="948" y="315" width="5" height="6" fill="#f2c500"/>
<rect x="953" y="315" width="6" height="6" fill="#7ec34f"/>
<rect x="959" y="315" width="6" height="6" fill="#73c15a"/>
<rect x="965" y="315" width="5" height="6" fill="#5942a9"/>
<rect x="970" y="315" width="6" height="6" fill="#4f288d"/>
<rect x="976" y="315" width="5" height="6" fill="#4b1f80"/>
<rect x="981" y="315" width="6" height="6" fill="#5d52b6"/>
<rect x="987" y="315" width="178" height="6" fill="#4b1f80"/>
<rect x="942" y="321" width="6" height="5" fill="#f2c500"/>
<rect x="948" y="321" width="5" height="5" fill="#9ac735"/>
<rect x="953" y="321" width="6" height="5" fill="#42b990"/>
<rect x="959" y="321" width="6" height="5" fill="#43a3e1"/>
<rect x="965" y="321" width="5" height="5" fill="#4f278b"/>
<rect x="970" y="321" width="195" height="5" fill="#4b1f80"/>
<rect x="920" y="326" width="5" height="6" fill="#f0d900"/>
<rect x="942" y="326" width="6" height="6" fill="#f0d900"/>
<rect x="948" y="326" width="5" height="6" fill="#d8c40f"/>
<rect x="953" y="326" width="6" height="6" fill="#31b7aa"/>
<rect x="959" y="326" width="6" height="6" fill="#5d79d0"/>
<rect x="965" y="326" width="5" height="6" fill="#502a90"/>
<rect x="970" y="326" width="195" height="6" fill="#4b1f80"/>
<rect x="937" y="332" width="5" height="6" fill="#eee000"/>
<rect x="948" y="332" width="5" height="6" fill="#8dc541"/>
<rect x="953" y="332" width="6" height="6" fill="#39accf"/>
<rect x="959" y="332" width="6" height="6" fill="#469fe0"/>
<rect x="965" y="332" width="5" height="6" fill="#6261c4"/>
<rect x="970" y="332" width="195" height="6" fill="#4b1f80"/>
<rect x="942" y="338" width="6" height="6" fill="#f0d900"/>
<rect x="948" y="338" width="5" height="6" fill="#bfc61e"/>
<rect x="953" y="338" width="6" height="6" fill="#36afc6"/>
<rect x="959" y="338" width="6" height="6" fill="#5636a0"/>
<rect x="965" y="338" width="5" height="6" fill="#55359f"/>
<rect x="970" y="338" width="195" height="6" fill="#4b1f80"/>
<rect x="942" y="344" width="6" height="6" fill="#e9c305"/>
<rect x="948" y="344" width="5" height="6" fill="#44a2e1"/>
<rect x="953" y="344" width="6" height="6" fill="#36aec8"/>
<rect x="959" y="344" width="6" height="6" fill="#5b83d5"/>
<rect x="965" y="344" width="5" height="6" fill="#573da5"/>
<rect x="970" y="344" width="6" height="6" fill="#4b1f80"/>
<rect x="976" y="344" width="5" height="6" fill="#5d52b6"/>
<rect x="981" y="344" width="184" height="6" fill="#4b1f80"/>
<rect x="931" y="350" width="6" height="5" fill="#e9c305"/>
<rect x="937" y="350" width="5" height="5" fill="#eee000"/>
<rect x="948" y="350" width="5" height="5" fill="#58bd72"/>
<rect x="953" y="350" width="6" height="5" fill="#48ba87"/>
<rect x="959" y="350" width="6" height="5" fill="#5c4db2"/>
<rect x="965" y="350" width="5" height="5" fill="#522d95"/>
<rect x="970" y="350" width="6" height="5" fill="#5a44ac"/>
<rect x="976" y="350" width="189" height="5" fill="#4b1f80"/>
<rect x="931" y="355" width="6" height="6" fill="#f2d200"/>
<rect x="942" y="355" width="6" height="6" fill="#f0d900"/>
<rect x="948" y="355" width="5" height="6" fill="#5dbe6e"/>
<rect x="953" y="355" width="6" height="6" fill="#6160c2"/>
<rect x="959" y="355" width="6" height="6" fill="#522e96"/>
<rect x="965" y="355" width="200" height="6" fill="#4b1f80"/>
<rect x="931" y="361" width="6" height="6" fill="#eee000"/>
<rect x="942" y="361" width="6" height="6" fill="#f2ca00"/>
<rect x="948" y="361" width="5" height="6" fill="#588ad9"/>
<rect x="953" y="361" width="6" height="6" fill="#606dca"/>
<rect x="959" y="361" width="6" height="6" fill="#583ea6"/>
<rect x="965" y="361" width="200" height="6" fill="#4b1f80"/>
<rect x="937" y="367" width="5" height="6" fill="#eee000"/>
<rect x="948" y="367" width="5" height="6" fill="#2fb4b5"/>
<rect x="953" y="367" width="6" height="6" fill="#5e73cd"/>
<rect x="959" y="367" width="6" height="6" fill="#5d4fb5"/>
<rect x="965" y="367" width="200" height="6" fill="#4b1f80"/>
<rect x="942" y="373" width="6" height="6" fill="#60be6b"/>
<rect x="948" y="373" width="5" height="6" fill="#605abd"/>
<rect x="953" y="373" width="6" height="6" fill="#502b90"/>
<rect x="959" y="373" width="6" height="6" fill="#5d52b6"/>
<rect x="965" y="373" width="200" height="6" fill="#4b1f80"/>
<rect x="914" y="379" width="6" height="5" fill="#eee000"/>
<rect x="920" y="379" width="5" height="5" fill="#e9c305"/>
<rect x="937" y="379" width="5" height="5" fill="#f2c500"/>
<rect x="942" y="379" width="6" height="5" fill="#39b89e"/>
<rect x="948" y="379" width="5" height="5" fill="#605bbe"/>
<rect x="953" y="379" width="6" height="5" fill="#4e2589"/>
<rect x="959" y="379" width="6" height="5" fill="#54329c"/>
<rect x="965" y="379" width="200" height="5" fill="#4b1f80"/>
<rect x="931" y="384" width="6" height="6" fill="#eee000"/>
<rect x="937" y="384" width="5" height="6" fill="#f2c700"/>
<rect x="942" y="384" width="6" height="6" fill="#61be6a"/>
<rect x="948" y="384" width="5" height="6" fill="#499cdf"/>
<rect x="953" y="384" width="6" height="6" fill="#5f59bc"/>
<rect x="959" y="384" width="206" height="6" fill="#4b1f80"/>
<rect x="937" y="390" width="5" height="6" fill="#f2cd00"/>
<rect x="942" y="390" width="6" height="6" fill="#3aabd1"/>
<rect x="948" y="390" width="5" height="6" fill="#5d79d0"/>
<rect x="953" y="390" width="6" height="6" fill="#606ac8"/>
<rect x="959" y="390" width="206" height="6" fill="#4b1f80"/>
<rect x="920" y="396" width="5" height="6" fill="#f2c500"/>
<rect x="937" y="396" width="5" height="6" fill="#f2c600"/>
<rect x="942" y="396" width="6" height="6" fill="#56bd75"/>
<rect x="948" y="396" width="5" height="6" fill="#3aabd3"/>
<rect x="953" y="396" width="6" height="6" fill="#5b4ab0"/>
<rect x="959" y="396" width="6" height="6" fill="#5a44ac"/>
<rect x="965" y="396" width="200" height="6" fill="#4b1f80"/></g>
<path d="M1020.8,74.7 L1018.8,76.9 L1016.8,79.1 L1014.8,81.4 L1012.9,83.6 L1011.0,85.9 L1009.1,88.2 L1007.2,90.5 L1005.4,92.9 L1003.6,95.2 L1001.8,97.6 L1000.1,100.0 L998.4,102.4 L996.7,104.8 L995.0,107.2 L993.4,109.7 L991.7,112.1 L990.1,114.6 L988.6,117.1 L987.0,119.6 L985.5,122.1 L984.0,124.6 L982.5,127.2 L981.0,129.7 L979.6,132.3 L978.2,134.9 L976.7,137.4 L975.4,140.0 L974.0,142.6 L972.6,145.3 L971.3,147.9 L970.0,150.5 L968.7,153.2 L967.4,155.8 L966.2,158.5 L964.9,161.2 L963.7,163.8 L962.5,166.5 L961.3,169.2 L960.1,171.9 L958.9,174.6 L957.8,177.4 L956.6,180.1 L955.5,182.8 L954.4,185.5 L953.3,188.3 L952.2,191.0 L951.2,193.8 L950.1,196.6 L949.1,199.3 L948.0,202.1 L947.0,204.9 L946.0,207.7 L945.0,210.4 L944.1,213.2 L943.1,216.0 L942.1,218.8 L941.2,221.6 L940.3,224.4 L939.3,227.3 L938.4,230.1 L937.5,232.9 L936.7,235.7 L935.8,238.5 L934.9,241.4 L934.1,244.2 L933.2,247.0 L932.4,249.9 L931.6,252.7 L930.8,255.6 L930.0,258.4 L929.2,261.3 L928.4,264.1 L927.7,267.0 L926.9,269.8 L926.2,272.7 L925.5,275.5 L924.8,278.4 L924.1,281.3 L923.4,284.2 L922.7,287.0 L922.0,289.9 L921.4,292.8 L920.7,295.7 L920.1,298.5 L919.5,301.4 L918.9,304.3 L918.3,307.2 L917.7,310.1 L917.2,313.0 L916.6,315.9 L916.1,318.8 L915.6,321.7 L915.0,324.6 L914.6,327.5 L914.1,330.4 L913.6,333.3 L913.2,336.2 L912.7,339.1 L912.3,342.0 L911.9,345.0 L911.5,347.9 L911.2,350.8 L910.8,353.7 L910.5,356.7 L910.2,359.6 L909.9,362.6 L909.6,365.5 L909.3,368.4 L909.1,371.4 L908.9,374.4 L908.7,377.3 L908.5,380.3 L908.3,383.2 L908.2,386.2 L908.1,389.2 L908.0,392.2 L907.9,395.2 L907.9,398.2 L907.8,401.2" fill="none" stroke="#707a28" stroke-width="4.6"/>
<path d="M1164.5,118.5 L1162.0,120.1 L1159.5,121.7 L1157.0,123.2 L1154.6,124.8 L1152.1,126.4 L1149.6,128.0 L1147.2,129.7 L1144.7,131.3 L1142.3,133.0 L1139.9,134.6 L1137.4,136.3 L1135.0,138.0 L1132.6,139.7 L1130.2,141.4 L1127.9,143.2 L1125.5,144.9 L1123.1,146.7 L1120.8,148.5 L1118.4,150.3 L1116.1,152.1 L1113.8,153.9 L1111.5,155.8 L1109.2,157.6 L1106.9,159.5 L1104.7,161.4 L1102.4,163.3 L1100.2,165.2 L1098.0,167.2 L1095.8,169.1 L1093.6,171.1 L1091.4,173.1 L1089.3,175.1 L1087.1,177.1 L1085.0,179.1 L1082.9,181.2 L1080.8,183.3 L1078.8,185.3 L1076.7,187.4 L1074.7,189.6 L1072.7,191.7 L1070.7,193.8 L1068.7,196.0 L1066.7,198.2 L1064.8,200.4 L1062.8,202.6 L1060.9,204.8 L1059.1,207.1 L1057.2,209.3 L1055.3,211.6 L1053.5,213.9 L1051.7,216.2 L1049.9,218.5 L1048.2,220.9 L1046.4,223.2 L1044.7,225.6 L1043.0,228.0 L1041.3,230.4 L1039.6,232.8 L1038.0,235.2 L1036.4,237.6 L1034.7,240.1 L1033.2,242.6 L1031.6,245.0 L1030.1,247.5 L1028.5,250.1 L1027.0,252.6 L1025.6,255.1 L1024.1,257.7 L1022.7,260.2 L1021.2,262.8 L1019.8,265.4 L1018.5,268.0 L1017.1,270.6 L1015.8,273.2 L1014.5,275.9 L1013.2,278.5 L1011.9,281.2 L1010.6,283.8 L1009.4,286.5 L1008.2,289.2 L1007.0,291.9 L1005.8,294.6 L1004.7,297.3 L1003.5,300.0 L1002.4,302.8 L1001.3,305.5 L1000.2,308.3 L999.2,311.0 L998.1,313.8 L997.1,316.6 L996.1,319.4 L995.1,322.1 L994.2,324.9 L993.2,327.7 L992.3,330.5 L991.4,333.3 L990.5,336.2 L989.6,339.0 L988.7,341.8 L987.9,344.6 L987.0,347.4 L986.2,350.3 L985.4,353.1 L984.6,355.9 L983.9,358.8 L983.1,361.6 L982.4,364.4 L981.6,367.3 L980.9,370.1 L980.2,372.9 L979.5,375.8 L978.9,378.6 L978.2,381.4 L977.6,384.3 L976.9,387.1 L976.3,389.9 L975.7,392.7 L975.1,395.5 L974.5,398.3" fill="none" stroke="#d8a8dc" stroke-width="5"/>
<ellipse cx="1030" cy="250" rx="3.2" ry="1.5" transform="rotate(-62 1030 250)" fill="#f8eefa" opacity="0.85"/>
<ellipse cx="1007" cy="293" rx="3.2" ry="1.5" transform="rotate(-68 1007 293)" fill="#f8eefa" opacity="0.85"/>
<ellipse cx="990" cy="338.5" rx="3.2" ry="1.5" transform="rotate(-73 990 338.5)" fill="#f8eefa" opacity="0.85"/>
</g>
<rect x="885.5" y="80.5" width="273" height="312.3" fill="none" stroke="#000" stroke-width="3"/>
<path d="M874.5,120.7 H886" stroke="#000" stroke-width="3"/>
<path d="M874.5,159.5 H886" stroke="#000" stroke-width="3"/>
<path d="M874.5,196.3 H886" stroke="#000" stroke-width="3"/>
<path d="M874.5,284.2 H886" stroke="#000" stroke-width="3"/>
<path d="M874.5,393.1 H886" stroke="#000" stroke-width="3"/>
<path d="M885.5,392 V403.7" stroke="#000" stroke-width="3"/>
<path d="M1022,392 V403.7" stroke="#000" stroke-width="3"/>
<path d="M1158.5,392 V403.7" stroke="#000" stroke-width="3"/>
<text x="851.73" y="130.96" font-size="34" fill="#000" textLength="17.25" lengthAdjust="spacingAndGlyphs" >5</text>
<text x="851.81" y="166.86" font-size="34" fill="#000" textLength="17.93" lengthAdjust="spacingAndGlyphs" >3</text>
<text x="852.77" y="205.60" font-size="34" fill="#000" textLength="17.87" lengthAdjust="spacingAndGlyphs" >2</text>
<text x="852.32" y="295.00" font-size="34" fill="#000" textLength="16.00" lengthAdjust="spacingAndGlyphs" >1</text>
<text x="827.87" y="402.62" font-size="34" fill="#000" textLength="41.45" lengthAdjust="spacingAndGlyphs" >0.5</text>
<text x="877.83" y="435.82" font-size="34" fill="#000" textLength="17.14" lengthAdjust="spacingAndGlyphs" >0</text>
<text x="1000.73" y="435.92" font-size="34" fill="#000" textLength="42.93" lengthAdjust="spacingAndGlyphs" >0.2</text>
<text x="1137.67" y="435.52" font-size="34" fill="#000" textLength="41.60" lengthAdjust="spacingAndGlyphs" >0.4</text>
<text x="877.46" y="481.92" font-size="34" fill="#000" textLength="303.48" lengthAdjust="spacingAndGlyphs" >SPEED DEVIATION</text>
<text x="995.35" y="521.27" font-size="33" fill="#000" textLength="76.53" lengthAdjust="spacingAndGlyphs" >(m/s)</text>
<text x="890.51" y="109.19" font-size="30.5" fill="#000" textLength="99.02" lengthAdjust="spacingAndGlyphs" >Success</text>
<text x="1054.74" y="379.40" font-size="30" fill="#fff" textLength="90.71" lengthAdjust="spacingAndGlyphs" >Failure</text>
<text transform="translate(432.6,338.87) rotate(-90)" x="0" y="0" font-size="34" textLength="191.9" lengthAdjust="spacingAndGlyphs">HEIGHT (m)</text>
</svg>
</body></html>
